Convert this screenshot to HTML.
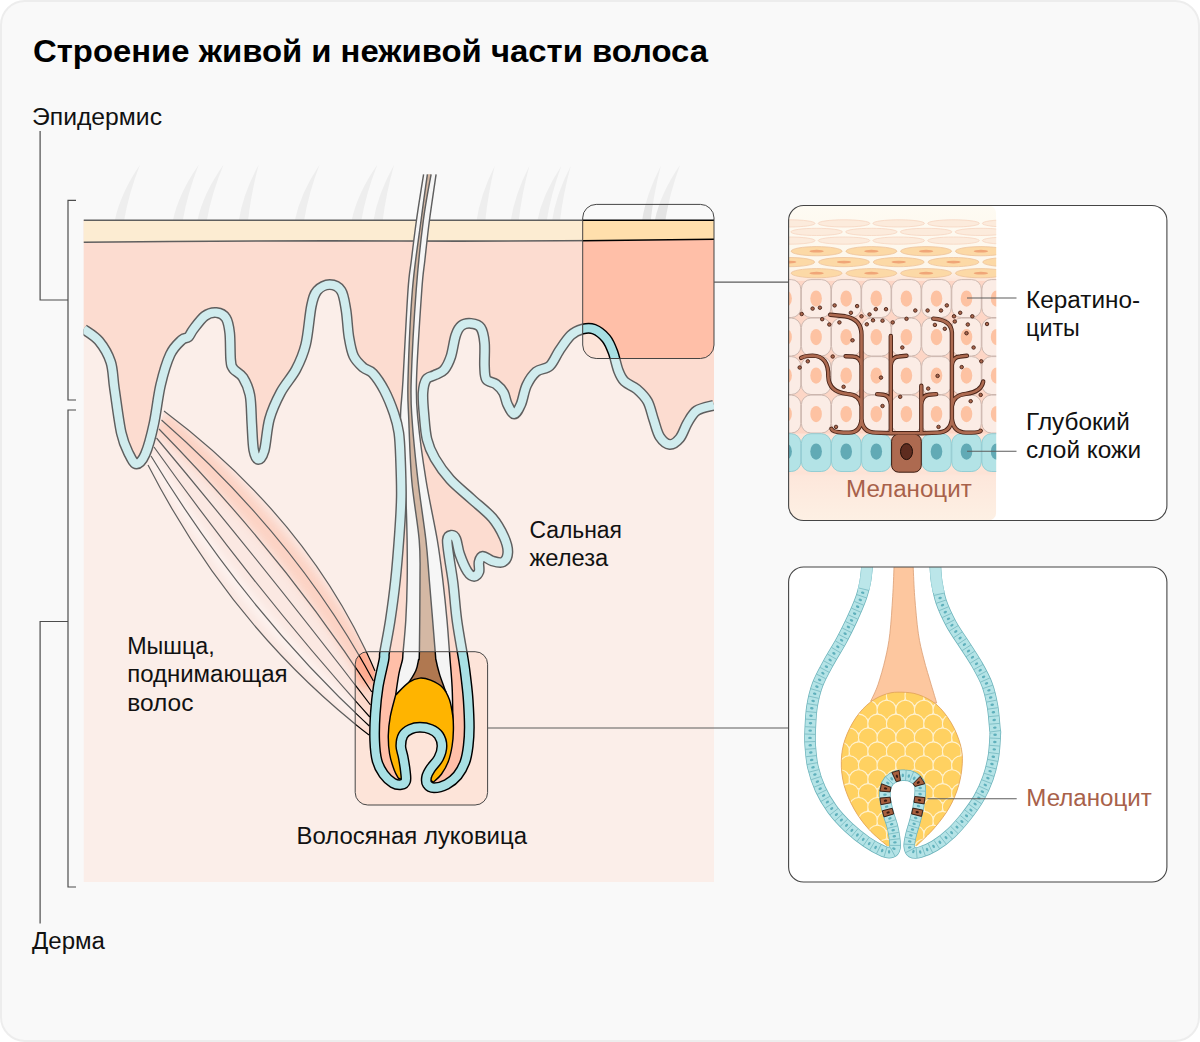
<!DOCTYPE html>
<html lang="ru"><head><meta charset="utf-8"><title>Строение живой и неживой части волоса</title>
<style>
html,body{margin:0;padding:0;background:#fff}
body{width:1200px;height:1042px;overflow:hidden;font-family:"Liberation Sans",sans-serif}
.card{position:absolute;left:0;top:0;width:1196px;height:1038px;background:#f9f9f9;border:2px solid #ededed;border-radius:25px}
svg{position:absolute;left:0;top:0}
text{font-family:"Liberation Sans",sans-serif}
.t{font-size:23px;fill:#111}
.tb{font-size:23px;fill:#a8614a}
.ld{stroke:#4d4d4d;stroke-width:1.2;fill:none}
.ld2{stroke:#5c5c5c;stroke-width:1.1;fill:none}
</style></head><body>
<div class="card"></div>
<svg width="1200" height="1042" viewBox="0 0 1200 1042">

<defs>
<linearGradient id="mg" gradientUnits="userSpaceOnUse" x1="300" y1="520" x2="225" y2="600">
<stop offset="0" stop-color="#ffbfa8" stop-opacity="0.9"/><stop offset="0.45" stop-color="#ffbfa8" stop-opacity="0.35"/><stop offset="1" stop-color="#ffbfa8" stop-opacity="0.05"/></linearGradient>
<clipPath id="cmus"><path d="M164,411 Q310.5,521 375,671 L369,735 Q232,629 148,465 Z"/></clipPath><filter id="blur5" x="-20%" y="-20%" width="140%" height="140%"><feGaussianBlur stdDeviation="4.5"/></filter>
<clipPath id="cskin"><rect x="83.5" y="150" width="630.5" height="732"/></clipPath>
<clipPath id="cbox"><rect x="582.7" y="204.4" width="131.3" height="154.1" rx="13.5"/><rect x="355.2" y="651.7" width="132.4" height="153.3" rx="12.5"/></clipPath>

<g id="skin">
<path d="M114.7,221 Q120,194 140,164.7 Q128.5,194 124,221 ZM172.8,221 Q178.2,194 198.7,164.7 Q187.2,194 182.7,221 ZM197.3,221 Q202.8,194 223.5,164.7 Q211.4,194 206.7,221 ZM238.7,221 Q242.9,194 258.7,164.7 Q251,194 248,221 ZM294.7,221 Q299.9,194 319.5,164.7 Q308.3,194 304,221 ZM351.5,221 Q356.9,194 377.3,164.7 Q365.8,194 361.3,221 ZM373.3,221 Q377.7,194 394.1,164.7 Q385.9,194 382.7,221 ZM476.5,221 Q480.3,194.6 494.7,166 Q487.9,194.6 485.3,221 ZM510.7,221 Q514.6,194.6 529.3,166 Q521.7,194.6 518.7,221 ZM537.3,221 Q542.3,194.6 561.3,166 Q550.8,194.6 546.7,221 ZM552,221 Q555.9,194.6 570.7,166 Q563,194.6 560,221 ZM642,221 Q645.9,194.6 660.8,166 Q653.5,194.6 650.7,221 ZM654.7,221 Q660,194.1 680,165 Q669.4,194.1 665.3,221 Z" fill="#e4e4e4"/>
<rect x="83.5" y="220" width="630.5" height="662" fill="#fde4d9"/>
<g clip-path="url(#cmus)"><path d="M164,411 Q310.5,521 375,671 L369,735 Q232,629 148,465 Z" fill="#ffbfa8" opacity="0.28"/><path d="M161,421.3 Q295.6,541.5 373.9,683.2" fill="none" stroke="#ffa98c" stroke-width="22" filter="url(#blur5)" opacity="0.95"/><path d="M150.4,456.9 Q243.8,612.8 369.9,725.4" fill="none" stroke="#fff" stroke-width="12" filter="url(#blur5)" opacity="0.45"/></g>
<path d="M164,411 Q310.5,521 375,671M161.5,420 Q297.4,539 373.4,681M159,429 Q284.3,557 371.8,692M156.5,438 Q271.2,575 370.5,705M154,447 Q258.2,593 369.8,717M151,456 Q245.1,611 369.3,726M148,465 Q232,629 369,735" fill="none" stroke="#000" stroke-width="1.2"/>
<path d="M83.5,220 L83.5,329C86.1,331 94.5,335.5 99,341C103.5,346.5 108.1,354 110.7,362C113.3,370 112.7,377.2 114.5,389C116.3,400.8 118.9,422.2 121.3,433C123.7,443.8 126.5,448.8 129,454C131.6,459.2 133.9,464 136.6,464C139.3,464 142.4,460.7 145.3,454C148.2,447.3 151.4,435.1 153.9,423.6C156.4,412.1 157.9,396.5 160.6,385C163.3,373.5 166.7,362 170.2,354.5C173.7,347 178.7,342.9 181.7,340C184.7,337.1 186.5,338.8 188.4,337C190.3,335.2 190.5,333 193.2,329.5C195.9,326 201,318.8 204.8,316C208.7,313.2 212.8,312.3 216.3,312.6C219.8,312.9 223.7,314.6 225.9,318C228.1,321.4 228.9,326 229.7,333C230.5,340 230.1,354 230.7,360C231.3,366 231.4,366.1 233.5,369C235.6,371.9 240.3,373.2 243,377.5C245.7,381.8 248.4,387.3 249.9,395C251.4,402.7 251.2,414.3 251.8,423.5C252.4,432.7 252.6,444 253.7,450C254.8,456 256.5,459.4 258.3,459.5C260.1,459.6 262.4,457.1 264.3,450.4C266.2,443.6 266.8,428.7 269.5,419C272.2,409.3 276.3,400.7 280.7,392.4C285.1,384.1 291.8,377.4 296,369.4C300.2,361.4 303.1,355.1 305.7,344.5C308.3,333.9 309.5,315 311.4,306C313.3,297 314.1,294.3 317.2,290.7C320.2,287.1 325.7,284.6 329.7,284.6C333.7,284.6 338.5,286.5 341.2,290.7C343.9,294.9 344.7,302.3 346,310C347.3,317.7 347.6,329.1 348.9,336.8C350.2,344.5 351.2,350.9 353.6,356C356,361.1 360,364.6 363.2,367.5C366.4,370.4 369.3,369.4 372.8,373.2C376.3,377 380.9,383.8 384.4,390.5C387.9,397.2 391.6,406.5 394,413.5C396.4,420.5 397.7,425.1 398.8,432.7C399.9,440.3 400.1,448.3 400.5,459C400.9,469.7 401.5,484.1 401.3,496.8C401.1,509.5 400.3,521.3 399.3,535.2C398.3,549.1 397,565.9 395.5,580C394,594.1 392.1,608 390.3,620C388.5,632 385.8,645 384.7,651.7C383.6,658.4 385,654.1 383.9,660C382.8,665.9 379.6,677.9 378.2,686.9C376.8,695.9 375.9,704.8 375.3,713.7C374.7,722.7 374.4,732.8 374.7,740.6C375,748.5 375.6,755.2 377.1,760.8C378.6,766.4 381,770.5 383.6,774.2C386.2,777.9 390.1,781.2 393,782.9C395.9,784.6 399.1,784.9 401.2,784.6C403.3,784.3 405,783.1 405.7,780.9C406.4,778.7 405.8,775.5 405.4,771.5C405,767.5 403.9,761 403.1,756.7C402.3,752.5 400.8,749.6 400.8,746C400.8,742.4 401.5,738 403.1,735.2C404.7,732.4 407.7,730.5 410.5,729.2C413.3,727.9 416.5,727.3 419.9,727.3C423.2,727.3 427.5,727.9 430.6,729.2C433.7,730.5 436.8,732.4 438.7,735.2C440.6,738 442,742.2 442,746C442,749.8 440.6,754.3 438.7,758.1C436.8,761.9 432.6,765.7 430.6,768.8C428.6,771.9 427.2,774.3 426.6,776.9C426.1,779.5 426.1,782.5 427.3,784.3C428.5,786.1 430.8,787.8 434,787.8C437.2,787.8 442.8,786.3 446.7,784.3C450.6,782.2 454.5,779.2 457.5,775.5C460.5,771.8 463.1,767 464.9,762.1C466.7,757.2 467.5,751.8 468.2,746C468.9,740.2 469.3,734.8 469.3,727.2C469.3,719.6 468.7,708.1 468.2,700.3C467.7,692.5 467,686.9 466.2,680.2C465.4,673.5 465.1,670 463.5,660C461.9,650 458.6,632.8 456.9,620C455.2,607.2 454.4,593.4 453.1,583.1C451.8,572.8 450.3,565.4 449.3,558.2C448.3,551 447,543.8 447.3,540C447.6,536.2 449.8,535.4 451.2,535.2C452.6,535 454.6,535.8 456,539C457.4,542.2 457.9,549 459.8,554.4C461.7,559.8 465.1,567.9 467.5,571.6C469.9,575.3 472.3,576.4 474.2,576.4C476.1,576.4 478.2,574 479,571.6C479.8,569.2 478.4,564.5 479,562C479.6,559.5 480.6,556.5 482.8,556.3C485,556.1 489,560 492.4,561C495.8,562 500.4,563.4 503,562C505.6,560.6 507.6,556.6 507.8,552.4C508,548.2 506.6,542.8 504,537C501.4,531.2 497.8,524.3 492.4,517.9C486.9,511.5 478.3,505.1 471.3,498.7C464.3,492.3 456.3,486.2 450.2,479.5C444.1,472.8 438.8,465.1 434.9,458.4C431,451.7 428.8,446.6 427,439.2C425.2,431.8 424.7,421.7 424,414C423.3,406.3 422.6,398.6 423,392.8C423.4,387 424.4,382.3 426.3,379.4C428.2,376.5 431.5,376.8 434.5,375.2C437.5,373.6 441.4,372.9 444.1,369.8C446.8,366.7 449,362.1 450.9,356.4C452.8,350.6 453.9,340.4 455.7,335.3C457.4,330.2 458.8,327.7 461.4,325.7C463.9,323.7 467.8,323.1 471,323.4C474.2,323.7 478.4,324.3 480.6,327.6C482.9,330.9 483.9,336.6 484.5,343C485.1,349.4 484.2,359.9 484.5,366C484.8,372.1 484.5,376.4 486.4,379.4C488.3,382.4 493.1,382 496,384.2C498.9,386.4 501.7,389.4 503.6,392.8C505.5,396.2 505.7,400.9 507.5,404.4C509.3,407.9 512,414 514.2,414C516.4,414 518.8,409.2 520.9,404.4C523,399.6 524.1,390.6 526.7,385.2C529.3,379.8 532.5,374.9 536.3,371.7C540.1,368.5 545.9,369.5 549.7,366C553.5,362.5 555.8,355.7 559.3,350.6C562.8,345.5 567,338.9 570.8,335.3C574.6,331.7 578.4,330.1 582.3,329.1C586.1,328.1 589.9,327.6 593.9,329.1C597.9,330.7 602.9,334.5 606.1,338.4C609.3,342.2 611,346.8 613,352.2C615,357.6 616.5,365.8 618.4,370.7C620.3,375.6 621.4,378.3 624.5,381.4C627.6,384.5 632.9,385.8 636.8,389.1C640.6,392.4 644.8,396.3 647.6,401.4C650.4,406.5 651.7,413.9 653.7,419.8C655.7,425.7 657.1,432.6 659.8,436.7C662.5,440.8 666.5,444.1 669.8,444.4C673.1,444.6 676.8,441.8 679.8,438.2C682.8,434.6 684.7,427.5 687.5,422.9C690.3,418.3 692.3,413.6 696.7,410.6C701.1,407.7 711.1,406.1 714,405.2L714,220 Z" fill="#ffbfa8"/>
<path d="M83.5,220 L714,220 L714,239.3 Q560,241.5 400,241 T83.5,242.2 Z" fill="#ffdfac"/>
<path d="M83.5,220.3 L714,220.3 M714,239.3 Q560,241.5 400,241 T83.5,242.2" fill="none" stroke="#000" stroke-width="1.6"/>
<path d="M423.6,174.3C422.4,181.9 418.5,205.7 416.5,220C414.5,234.3 412.8,248.3 411.4,260C410,271.7 409.4,270 408,290C406.6,310 404.2,358.3 403,380C401.8,401.7 400.3,406.7 400.5,420C400.7,433.3 403.1,446.7 404,460C404.9,473.3 405.5,486.7 406,500C406.5,513.3 406.9,526.7 407.1,540C407.3,553.3 407.4,566.7 407.2,580C407,593.3 406.5,608 405.8,620C405.1,632 403.7,645 403.1,651.7C402.5,658.4 403.1,656.4 402.4,660C401.7,663.6 400.1,667.6 399,673.4C397.9,679.2 396.2,691.3 395.7,694.9L453.2,729.9C453.1,727.2 453,720.9 452.8,713.7C452.6,706.5 452.6,695.9 452.1,686.9C451.7,677.9 451,671.1 450.1,660C449.2,648.9 448.2,633.3 447,620C445.8,606.7 444.4,593.3 442.8,580C441.2,566.7 440.1,556.7 437.3,540C434.5,523.3 429.2,500 426,480C422.8,460 419.6,436.7 418,420C416.4,403.3 415.9,401.7 416.5,380C417.1,358.3 420.4,310 421.8,290C423.2,270 423.6,271.7 424.9,260C426.2,248.3 427.6,234.3 429.5,220C431.4,205.7 435,181.9 436.1,174.3Z" fill="#f4f4f4"/>
<path d="M427.4,174.3C426.3,181.9 423.6,200.7 421.1,220C418.6,239.3 414.6,263.3 412.4,290C410.2,316.7 408.6,358.3 408,380C407.4,401.7 408.2,403.3 408.8,420C409.4,436.7 410,460 411.7,480C413.4,500 417.8,523.3 419.2,540C420.6,556.7 420,561.4 420,580C420,598.6 419.6,638.4 419.4,651.7C419.1,665 419.1,656.8 418.5,660C417.9,663.2 417.4,667 415.8,670.7C414.2,674.4 410.2,680.3 409.1,682.2L446.1,692.2C445.8,691.3 445.1,690 444,686.9C442.9,683.8 440.6,677.9 439.3,673.4C438,668.9 436.7,663.6 436,660C435.3,656.4 436.3,665 435.2,651.7C434.1,638.4 430.9,598.6 429.3,580C427.8,561.4 427.8,556.7 425.9,540C424,523.3 420.2,500 417.9,480C415.6,460 413.2,436.7 412.1,420C411,403.3 410.5,401.7 411.2,380C411.9,358.3 414.2,316.7 416.2,290C418.2,263.3 420.9,239.3 423.4,220C425.9,200.7 429.8,181.9 431.1,174.3Z" fill="#b07850"/>
<path d="M423.6,174.3C422.4,181.9 418.5,205.7 416.5,220C414.5,234.3 412.8,248.3 411.4,260C410,271.7 409.4,270 408,290C406.6,310 404.2,358.3 403,380C401.8,401.7 400.3,406.7 400.5,420C400.7,433.3 403.1,446.7 404,460C404.9,473.3 405.5,486.7 406,500C406.5,513.3 406.9,526.7 407.1,540C407.3,553.3 407.4,566.7 407.2,580C407,593.3 406.5,608 405.8,620C405.1,632 403.7,645 403.1,651.7C402.5,658.4 403.1,656.4 402.4,660C401.7,663.6 400.1,667.6 399,673.4C397.9,679.2 396.2,691.3 395.7,694.9 M436.1,174.3C435,181.9 431.4,205.7 429.5,220C427.6,234.3 426.2,248.3 424.9,260C423.6,271.7 423.2,270 421.8,290C420.4,310 417.1,358.3 416.5,380C415.9,401.7 416.4,403.3 418,420C419.6,436.7 422.8,460 426,480C429.2,500 434.5,523.3 437.3,540C440.1,556.7 441.2,566.7 442.8,580C444.4,593.3 445.8,606.7 447,620C448.2,633.3 449.2,648.9 450.1,660C451,671.1 451.7,677.9 452.1,686.9C452.6,695.9 452.6,706.5 452.8,713.7C453,720.9 453.1,727.2 453.2,729.9 M427.4,174.3C426.3,181.9 423.6,200.7 421.1,220C418.6,239.3 414.6,263.3 412.4,290C410.2,316.7 408.6,358.3 408,380C407.4,401.7 408.2,403.3 408.8,420C409.4,436.7 410,460 411.7,480C413.4,500 417.8,523.3 419.2,540C420.6,556.7 420,561.4 420,580C420,598.6 419.6,638.4 419.4,651.7C419.1,665 419.1,656.8 418.5,660C417.9,663.2 417.4,667 415.8,670.7C414.2,674.4 410.2,680.3 409.1,682.2 M431.1,174.3C429.8,181.9 425.9,200.7 423.4,220C420.9,239.3 418.2,263.3 416.2,290C414.2,316.7 411.9,358.3 411.2,380C410.5,401.7 411,403.3 412.1,420C413.2,436.7 415.6,460 417.9,480C420.2,500 424,523.3 425.9,540C427.8,556.7 427.8,561.4 429.3,580C430.9,598.6 434.1,638.4 435.2,651.7C436.3,665 435.3,656.4 436,660C436.7,663.6 438,668.9 439.3,673.4C440.6,677.9 442.9,683.8 444,686.9C445.1,690 445.8,691.3 446.1,692.2" fill="none" stroke="#000" stroke-width="1.45"/>
<path d="M398.4,778.2C397.7,776.9 395.8,774.2 394.3,770.2C392.8,766.2 390.6,759.8 389.6,754C388.6,748.2 388.2,741.5 388.3,735.2C388.4,728.9 389.1,723.1 390.3,716.4C391.5,709.7 394.8,698.5 395.7,694.9C397.9,692.8 405.1,685 409.1,682.2C413.1,679.4 416.3,678.4 419.9,678.1C423.5,677.8 426.8,678.7 430.6,680.2C434.4,681.8 439.5,684.2 442.6,687.4C445.7,690.6 447.7,694.8 449.4,699.6C451.1,704.4 452.1,711.2 452.8,716.2C453.5,721.2 453.5,724.9 453.4,729.9C453.3,734.9 453,740.6 452.1,746C451.2,751.4 449.9,757.4 448.1,762.1C446.3,766.8 443.9,770.8 441.4,774.2C438.9,777.6 434.6,780.9 433.3,782.3L426.6,776.9C427.3,775.5 428.6,771.9 430.6,768.8C432.6,765.7 436.8,761.9 438.7,758.1C440.6,754.3 442,749.8 442,746C442,742.2 440.6,738 438.7,735.2C436.8,732.4 433.7,730.5 430.6,729.2C427.5,727.9 423.2,727.3 419.9,727.3C416.5,727.3 413.3,727.9 410.5,729.2C407.7,730.5 404.7,732.4 403.1,735.2C401.5,738 400.8,742.4 400.8,746C400.8,749.6 402.3,752.5 403.1,756.7C403.9,761 405,767.5 405.4,771.5C405.8,775.5 405.6,779.3 405.7,780.9Z" fill="#ffb400" stroke="#000" stroke-width="1.45" stroke-linejoin="round"/>
<path d="M83.5,329C86.1,331 94.5,335.5 99,341C103.5,346.5 108.1,354 110.7,362C113.3,370 112.7,377.2 114.5,389C116.3,400.8 118.9,422.2 121.3,433C123.7,443.8 126.5,448.8 129,454C131.6,459.2 133.9,464 136.6,464C139.3,464 142.4,460.7 145.3,454C148.2,447.3 151.4,435.1 153.9,423.6C156.4,412.1 157.9,396.5 160.6,385C163.3,373.5 166.7,362 170.2,354.5C173.7,347 178.7,342.9 181.7,340C184.7,337.1 186.5,338.8 188.4,337C190.3,335.2 190.5,333 193.2,329.5C195.9,326 201,318.8 204.8,316C208.7,313.2 212.8,312.3 216.3,312.6C219.8,312.9 223.7,314.6 225.9,318C228.1,321.4 228.9,326 229.7,333C230.5,340 230.1,354 230.7,360C231.3,366 231.4,366.1 233.5,369C235.6,371.9 240.3,373.2 243,377.5C245.7,381.8 248.4,387.3 249.9,395C251.4,402.7 251.2,414.3 251.8,423.5C252.4,432.7 252.6,444 253.7,450C254.8,456 256.5,459.4 258.3,459.5C260.1,459.6 262.4,457.1 264.3,450.4C266.2,443.6 266.8,428.7 269.5,419C272.2,409.3 276.3,400.7 280.7,392.4C285.1,384.1 291.8,377.4 296,369.4C300.2,361.4 303.1,355.1 305.7,344.5C308.3,333.9 309.5,315 311.4,306C313.3,297 314.1,294.3 317.2,290.7C320.2,287.1 325.7,284.6 329.7,284.6C333.7,284.6 338.5,286.5 341.2,290.7C343.9,294.9 344.7,302.3 346,310C347.3,317.7 347.6,329.1 348.9,336.8C350.2,344.5 351.2,350.9 353.6,356C356,361.1 360,364.6 363.2,367.5C366.4,370.4 369.3,369.4 372.8,373.2C376.3,377 380.9,383.8 384.4,390.5C387.9,397.2 391.6,406.5 394,413.5C396.4,420.5 397.7,425.1 398.8,432.7C399.9,440.3 400.1,448.3 400.5,459C400.9,469.7 401.5,484.1 401.3,496.8C401.1,509.5 400.3,521.3 399.3,535.2C398.3,549.1 397,565.9 395.5,580C394,594.1 392.1,608 390.3,620C388.5,632 385.8,645 384.7,651.7C383.6,658.4 385,654.1 383.9,660C382.8,665.9 379.6,677.9 378.2,686.9C376.8,695.9 375.9,704.8 375.3,713.7C374.7,722.7 374.4,732.8 374.7,740.6C375,748.5 375.6,755.2 377.1,760.8C378.6,766.4 381,770.5 383.6,774.2C386.2,777.9 390.1,781.2 393,782.9C395.9,784.6 399.1,784.9 401.2,784.6C403.3,784.3 405,783.1 405.7,780.9C406.4,778.7 405.8,775.5 405.4,771.5C405,767.5 403.9,761 403.1,756.7C402.3,752.5 400.8,749.6 400.8,746C400.8,742.4 401.5,738 403.1,735.2C404.7,732.4 407.7,730.5 410.5,729.2C413.3,727.9 416.5,727.3 419.9,727.3C423.2,727.3 427.5,727.9 430.6,729.2C433.7,730.5 436.8,732.4 438.7,735.2C440.6,738 442,742.2 442,746C442,749.8 440.6,754.3 438.7,758.1C436.8,761.9 432.6,765.7 430.6,768.8C428.6,771.9 427.2,774.3 426.6,776.9C426.1,779.5 426.1,782.5 427.3,784.3C428.5,786.1 430.8,787.8 434,787.8C437.2,787.8 442.8,786.3 446.7,784.3C450.6,782.2 454.5,779.2 457.5,775.5C460.5,771.8 463.1,767 464.9,762.1C466.7,757.2 467.5,751.8 468.2,746C468.9,740.2 469.3,734.8 469.3,727.2C469.3,719.6 468.7,708.1 468.2,700.3C467.7,692.5 467,686.9 466.2,680.2C465.4,673.5 465.1,670 463.5,660C461.9,650 458.6,632.8 456.9,620C455.2,607.2 454.4,593.4 453.1,583.1C451.8,572.8 450.3,565.4 449.3,558.2C448.3,551 447,543.8 447.3,540C447.6,536.2 449.8,535.4 451.2,535.2C452.6,535 454.6,535.8 456,539C457.4,542.2 457.9,549 459.8,554.4C461.7,559.8 465.1,567.9 467.5,571.6C469.9,575.3 472.3,576.4 474.2,576.4C476.1,576.4 478.2,574 479,571.6C479.8,569.2 478.4,564.5 479,562C479.6,559.5 480.6,556.5 482.8,556.3C485,556.1 489,560 492.4,561C495.8,562 500.4,563.4 503,562C505.6,560.6 507.6,556.6 507.8,552.4C508,548.2 506.6,542.8 504,537C501.4,531.2 497.8,524.3 492.4,517.9C486.9,511.5 478.3,505.1 471.3,498.7C464.3,492.3 456.3,486.2 450.2,479.5C444.1,472.8 438.8,465.1 434.9,458.4C431,451.7 428.8,446.6 427,439.2C425.2,431.8 424.7,421.7 424,414C423.3,406.3 422.6,398.6 423,392.8C423.4,387 424.4,382.3 426.3,379.4C428.2,376.5 431.5,376.8 434.5,375.2C437.5,373.6 441.4,372.9 444.1,369.8C446.8,366.7 449,362.1 450.9,356.4C452.8,350.6 453.9,340.4 455.7,335.3C457.4,330.2 458.8,327.7 461.4,325.7C463.9,323.7 467.8,323.1 471,323.4C474.2,323.7 478.4,324.3 480.6,327.6C482.9,330.9 483.9,336.6 484.5,343C485.1,349.4 484.2,359.9 484.5,366C484.8,372.1 484.5,376.4 486.4,379.4C488.3,382.4 493.1,382 496,384.2C498.9,386.4 501.7,389.4 503.6,392.8C505.5,396.2 505.7,400.9 507.5,404.4C509.3,407.9 512,414 514.2,414C516.4,414 518.8,409.2 520.9,404.4C523,399.6 524.1,390.6 526.7,385.2C529.3,379.8 532.5,374.9 536.3,371.7C540.1,368.5 545.9,369.5 549.7,366C553.5,362.5 555.8,355.7 559.3,350.6C562.8,345.5 567,338.9 570.8,335.3C574.6,331.7 578.4,330.1 582.3,329.1C586.1,328.1 589.9,327.6 593.9,329.1C597.9,330.7 602.9,334.5 606.1,338.4C609.3,342.2 611,346.8 613,352.2C615,357.6 616.5,365.8 618.4,370.7C620.3,375.6 621.4,378.3 624.5,381.4C627.6,384.5 632.9,385.8 636.8,389.1C640.6,392.4 644.8,396.3 647.6,401.4C650.4,406.5 651.7,413.9 653.7,419.8C655.7,425.7 657.1,432.6 659.8,436.7C662.5,440.8 666.5,444.1 669.8,444.4C673.1,444.6 676.8,441.8 679.8,438.2C682.8,434.6 684.7,427.5 687.5,422.9C690.3,418.3 692.3,413.6 696.7,410.6C701.1,407.7 711.1,406.1 714,405.2" fill="none" stroke="#000" stroke-width="11" stroke-linejoin="round"/>
<path d="M83.5,329C86.1,331 94.5,335.5 99,341C103.5,346.5 108.1,354 110.7,362C113.3,370 112.7,377.2 114.5,389C116.3,400.8 118.9,422.2 121.3,433C123.7,443.8 126.5,448.8 129,454C131.6,459.2 133.9,464 136.6,464C139.3,464 142.4,460.7 145.3,454C148.2,447.3 151.4,435.1 153.9,423.6C156.4,412.1 157.9,396.5 160.6,385C163.3,373.5 166.7,362 170.2,354.5C173.7,347 178.7,342.9 181.7,340C184.7,337.1 186.5,338.8 188.4,337C190.3,335.2 190.5,333 193.2,329.5C195.9,326 201,318.8 204.8,316C208.7,313.2 212.8,312.3 216.3,312.6C219.8,312.9 223.7,314.6 225.9,318C228.1,321.4 228.9,326 229.7,333C230.5,340 230.1,354 230.7,360C231.3,366 231.4,366.1 233.5,369C235.6,371.9 240.3,373.2 243,377.5C245.7,381.8 248.4,387.3 249.9,395C251.4,402.7 251.2,414.3 251.8,423.5C252.4,432.7 252.6,444 253.7,450C254.8,456 256.5,459.4 258.3,459.5C260.1,459.6 262.4,457.1 264.3,450.4C266.2,443.6 266.8,428.7 269.5,419C272.2,409.3 276.3,400.7 280.7,392.4C285.1,384.1 291.8,377.4 296,369.4C300.2,361.4 303.1,355.1 305.7,344.5C308.3,333.9 309.5,315 311.4,306C313.3,297 314.1,294.3 317.2,290.7C320.2,287.1 325.7,284.6 329.7,284.6C333.7,284.6 338.5,286.5 341.2,290.7C343.9,294.9 344.7,302.3 346,310C347.3,317.7 347.6,329.1 348.9,336.8C350.2,344.5 351.2,350.9 353.6,356C356,361.1 360,364.6 363.2,367.5C366.4,370.4 369.3,369.4 372.8,373.2C376.3,377 380.9,383.8 384.4,390.5C387.9,397.2 391.6,406.5 394,413.5C396.4,420.5 397.7,425.1 398.8,432.7C399.9,440.3 400.1,448.3 400.5,459C400.9,469.7 401.5,484.1 401.3,496.8C401.1,509.5 400.3,521.3 399.3,535.2C398.3,549.1 397,565.9 395.5,580C394,594.1 392.1,608 390.3,620C388.5,632 385.8,645 384.7,651.7C383.6,658.4 385,654.1 383.9,660C382.8,665.9 379.6,677.9 378.2,686.9C376.8,695.9 375.9,704.8 375.3,713.7C374.7,722.7 374.4,732.8 374.7,740.6C375,748.5 375.6,755.2 377.1,760.8C378.6,766.4 381,770.5 383.6,774.2C386.2,777.9 390.1,781.2 393,782.9C395.9,784.6 399.1,784.9 401.2,784.6C403.3,784.3 405,783.1 405.7,780.9C406.4,778.7 405.8,775.5 405.4,771.5C405,767.5 403.9,761 403.1,756.7C402.3,752.5 400.8,749.6 400.8,746C400.8,742.4 401.5,738 403.1,735.2C404.7,732.4 407.7,730.5 410.5,729.2C413.3,727.9 416.5,727.3 419.9,727.3C423.2,727.3 427.5,727.9 430.6,729.2C433.7,730.5 436.8,732.4 438.7,735.2C440.6,738 442,742.2 442,746C442,749.8 440.6,754.3 438.7,758.1C436.8,761.9 432.6,765.7 430.6,768.8C428.6,771.9 427.2,774.3 426.6,776.9C426.1,779.5 426.1,782.5 427.3,784.3C428.5,786.1 430.8,787.8 434,787.8C437.2,787.8 442.8,786.3 446.7,784.3C450.6,782.2 454.5,779.2 457.5,775.5C460.5,771.8 463.1,767 464.9,762.1C466.7,757.2 467.5,751.8 468.2,746C468.9,740.2 469.3,734.8 469.3,727.2C469.3,719.6 468.7,708.1 468.2,700.3C467.7,692.5 467,686.9 466.2,680.2C465.4,673.5 465.1,670 463.5,660C461.9,650 458.6,632.8 456.9,620C455.2,607.2 454.4,593.4 453.1,583.1C451.8,572.8 450.3,565.4 449.3,558.2C448.3,551 447,543.8 447.3,540C447.6,536.2 449.8,535.4 451.2,535.2C452.6,535 454.6,535.8 456,539C457.4,542.2 457.9,549 459.8,554.4C461.7,559.8 465.1,567.9 467.5,571.6C469.9,575.3 472.3,576.4 474.2,576.4C476.1,576.4 478.2,574 479,571.6C479.8,569.2 478.4,564.5 479,562C479.6,559.5 480.6,556.5 482.8,556.3C485,556.1 489,560 492.4,561C495.8,562 500.4,563.4 503,562C505.6,560.6 507.6,556.6 507.8,552.4C508,548.2 506.6,542.8 504,537C501.4,531.2 497.8,524.3 492.4,517.9C486.9,511.5 478.3,505.1 471.3,498.7C464.3,492.3 456.3,486.2 450.2,479.5C444.1,472.8 438.8,465.1 434.9,458.4C431,451.7 428.8,446.6 427,439.2C425.2,431.8 424.7,421.7 424,414C423.3,406.3 422.6,398.6 423,392.8C423.4,387 424.4,382.3 426.3,379.4C428.2,376.5 431.5,376.8 434.5,375.2C437.5,373.6 441.4,372.9 444.1,369.8C446.8,366.7 449,362.1 450.9,356.4C452.8,350.6 453.9,340.4 455.7,335.3C457.4,330.2 458.8,327.7 461.4,325.7C463.9,323.7 467.8,323.1 471,323.4C474.2,323.7 478.4,324.3 480.6,327.6C482.9,330.9 483.9,336.6 484.5,343C485.1,349.4 484.2,359.9 484.5,366C484.8,372.1 484.5,376.4 486.4,379.4C488.3,382.4 493.1,382 496,384.2C498.9,386.4 501.7,389.4 503.6,392.8C505.5,396.2 505.7,400.9 507.5,404.4C509.3,407.9 512,414 514.2,414C516.4,414 518.8,409.2 520.9,404.4C523,399.6 524.1,390.6 526.7,385.2C529.3,379.8 532.5,374.9 536.3,371.7C540.1,368.5 545.9,369.5 549.7,366C553.5,362.5 555.8,355.7 559.3,350.6C562.8,345.5 567,338.9 570.8,335.3C574.6,331.7 578.4,330.1 582.3,329.1C586.1,328.1 589.9,327.6 593.9,329.1C597.9,330.7 602.9,334.5 606.1,338.4C609.3,342.2 611,346.8 613,352.2C615,357.6 616.5,365.8 618.4,370.7C620.3,375.6 621.4,378.3 624.5,381.4C627.6,384.5 632.9,385.8 636.8,389.1C640.6,392.4 644.8,396.3 647.6,401.4C650.4,406.5 651.7,413.9 653.7,419.8C655.7,425.7 657.1,432.6 659.8,436.7C662.5,440.8 666.5,444.1 669.8,444.4C673.1,444.6 676.8,441.8 679.8,438.2C682.8,434.6 684.7,427.5 687.5,422.9C690.3,418.3 692.3,413.6 696.7,410.6C701.1,407.7 711.1,406.1 714,405.2" fill="none" stroke="#a8e0e4" stroke-width="8.1" stroke-linejoin="round"/>
</g>

<g id="skinf">
<path d="M114.7,221 Q120,194 140,164.7 Q128.5,194 124,221 ZM172.8,221 Q178.2,194 198.7,164.7 Q187.2,194 182.7,221 ZM197.3,221 Q202.8,194 223.5,164.7 Q211.4,194 206.7,221 ZM238.7,221 Q242.9,194 258.7,164.7 Q251,194 248,221 ZM294.7,221 Q299.9,194 319.5,164.7 Q308.3,194 304,221 ZM351.5,221 Q356.9,194 377.3,164.7 Q365.8,194 361.3,221 ZM373.3,221 Q377.7,194 394.1,164.7 Q385.9,194 382.7,221 ZM476.5,221 Q480.3,194.6 494.7,166 Q487.9,194.6 485.3,221 ZM510.7,221 Q514.6,194.6 529.3,166 Q521.7,194.6 518.7,221 ZM537.3,221 Q542.3,194.6 561.3,166 Q550.8,194.6 546.7,221 ZM552,221 Q555.9,194.6 570.7,166 Q563,194.6 560,221 ZM642,221 Q645.9,194.6 660.8,166 Q653.5,194.6 650.7,221 ZM654.7,221 Q660,194.1 680,165 Q669.4,194.1 665.3,221 Z" fill="#eeeeee"/>
<rect x="83.5" y="220" width="630.5" height="662" fill="#fbeee9"/>
<g clip-path="url(#cmus)"><path d="M164,411 Q310.5,521 375,671 L369,735 Q232,629 148,465 Z" fill="#fcdcd0" opacity="0.28"/><path d="M161,421.3 Q295.6,541.5 373.9,683.2" fill="none" stroke="#fcd1c2" stroke-width="22" filter="url(#blur5)" opacity="0.95"/><path d="M150.4,456.9 Q243.8,612.8 369.9,725.4" fill="none" stroke="#fff" stroke-width="12" filter="url(#blur5)" opacity="0.45"/></g>
<path d="M164,411 Q310.5,521 375,671M161.5,420 Q297.4,539 373.4,681M159,429 Q284.3,557 371.8,692M156.5,438 Q271.2,575 370.5,705M154,447 Q258.2,593 369.8,717M151,456 Q245.1,611 369.3,726M148,465 Q232,629 369,735" fill="none" stroke="#5f5f5f" stroke-width="1.2"/>
<path d="M83.5,220 L83.5,329C86.1,331 94.5,335.5 99,341C103.5,346.5 108.1,354 110.7,362C113.3,370 112.7,377.2 114.5,389C116.3,400.8 118.9,422.2 121.3,433C123.7,443.8 126.5,448.8 129,454C131.6,459.2 133.9,464 136.6,464C139.3,464 142.4,460.7 145.3,454C148.2,447.3 151.4,435.1 153.9,423.6C156.4,412.1 157.9,396.5 160.6,385C163.3,373.5 166.7,362 170.2,354.5C173.7,347 178.7,342.9 181.7,340C184.7,337.1 186.5,338.8 188.4,337C190.3,335.2 190.5,333 193.2,329.5C195.9,326 201,318.8 204.8,316C208.7,313.2 212.8,312.3 216.3,312.6C219.8,312.9 223.7,314.6 225.9,318C228.1,321.4 228.9,326 229.7,333C230.5,340 230.1,354 230.7,360C231.3,366 231.4,366.1 233.5,369C235.6,371.9 240.3,373.2 243,377.5C245.7,381.8 248.4,387.3 249.9,395C251.4,402.7 251.2,414.3 251.8,423.5C252.4,432.7 252.6,444 253.7,450C254.8,456 256.5,459.4 258.3,459.5C260.1,459.6 262.4,457.1 264.3,450.4C266.2,443.6 266.8,428.7 269.5,419C272.2,409.3 276.3,400.7 280.7,392.4C285.1,384.1 291.8,377.4 296,369.4C300.2,361.4 303.1,355.1 305.7,344.5C308.3,333.9 309.5,315 311.4,306C313.3,297 314.1,294.3 317.2,290.7C320.2,287.1 325.7,284.6 329.7,284.6C333.7,284.6 338.5,286.5 341.2,290.7C343.9,294.9 344.7,302.3 346,310C347.3,317.7 347.6,329.1 348.9,336.8C350.2,344.5 351.2,350.9 353.6,356C356,361.1 360,364.6 363.2,367.5C366.4,370.4 369.3,369.4 372.8,373.2C376.3,377 380.9,383.8 384.4,390.5C387.9,397.2 391.6,406.5 394,413.5C396.4,420.5 397.7,425.1 398.8,432.7C399.9,440.3 400.1,448.3 400.5,459C400.9,469.7 401.5,484.1 401.3,496.8C401.1,509.5 400.3,521.3 399.3,535.2C398.3,549.1 397,565.9 395.5,580C394,594.1 392.1,608 390.3,620C388.5,632 385.8,645 384.7,651.7C383.6,658.4 385,654.1 383.9,660C382.8,665.9 379.6,677.9 378.2,686.9C376.8,695.9 375.9,704.8 375.3,713.7C374.7,722.7 374.4,732.8 374.7,740.6C375,748.5 375.6,755.2 377.1,760.8C378.6,766.4 381,770.5 383.6,774.2C386.2,777.9 390.1,781.2 393,782.9C395.9,784.6 399.1,784.9 401.2,784.6C403.3,784.3 405,783.1 405.7,780.9C406.4,778.7 405.8,775.5 405.4,771.5C405,767.5 403.9,761 403.1,756.7C402.3,752.5 400.8,749.6 400.8,746C400.8,742.4 401.5,738 403.1,735.2C404.7,732.4 407.7,730.5 410.5,729.2C413.3,727.9 416.5,727.3 419.9,727.3C423.2,727.3 427.5,727.9 430.6,729.2C433.7,730.5 436.8,732.4 438.7,735.2C440.6,738 442,742.2 442,746C442,749.8 440.6,754.3 438.7,758.1C436.8,761.9 432.6,765.7 430.6,768.8C428.6,771.9 427.2,774.3 426.6,776.9C426.1,779.5 426.1,782.5 427.3,784.3C428.5,786.1 430.8,787.8 434,787.8C437.2,787.8 442.8,786.3 446.7,784.3C450.6,782.2 454.5,779.2 457.5,775.5C460.5,771.8 463.1,767 464.9,762.1C466.7,757.2 467.5,751.8 468.2,746C468.9,740.2 469.3,734.8 469.3,727.2C469.3,719.6 468.7,708.1 468.2,700.3C467.7,692.5 467,686.9 466.2,680.2C465.4,673.5 465.1,670 463.5,660C461.9,650 458.6,632.8 456.9,620C455.2,607.2 454.4,593.4 453.1,583.1C451.8,572.8 450.3,565.4 449.3,558.2C448.3,551 447,543.8 447.3,540C447.6,536.2 449.8,535.4 451.2,535.2C452.6,535 454.6,535.8 456,539C457.4,542.2 457.9,549 459.8,554.4C461.7,559.8 465.1,567.9 467.5,571.6C469.9,575.3 472.3,576.4 474.2,576.4C476.1,576.4 478.2,574 479,571.6C479.8,569.2 478.4,564.5 479,562C479.6,559.5 480.6,556.5 482.8,556.3C485,556.1 489,560 492.4,561C495.8,562 500.4,563.4 503,562C505.6,560.6 507.6,556.6 507.8,552.4C508,548.2 506.6,542.8 504,537C501.4,531.2 497.8,524.3 492.4,517.9C486.9,511.5 478.3,505.1 471.3,498.7C464.3,492.3 456.3,486.2 450.2,479.5C444.1,472.8 438.8,465.1 434.9,458.4C431,451.7 428.8,446.6 427,439.2C425.2,431.8 424.7,421.7 424,414C423.3,406.3 422.6,398.6 423,392.8C423.4,387 424.4,382.3 426.3,379.4C428.2,376.5 431.5,376.8 434.5,375.2C437.5,373.6 441.4,372.9 444.1,369.8C446.8,366.7 449,362.1 450.9,356.4C452.8,350.6 453.9,340.4 455.7,335.3C457.4,330.2 458.8,327.7 461.4,325.7C463.9,323.7 467.8,323.1 471,323.4C474.2,323.7 478.4,324.3 480.6,327.6C482.9,330.9 483.9,336.6 484.5,343C485.1,349.4 484.2,359.9 484.5,366C484.8,372.1 484.5,376.4 486.4,379.4C488.3,382.4 493.1,382 496,384.2C498.9,386.4 501.7,389.4 503.6,392.8C505.5,396.2 505.7,400.9 507.5,404.4C509.3,407.9 512,414 514.2,414C516.4,414 518.8,409.2 520.9,404.4C523,399.6 524.1,390.6 526.7,385.2C529.3,379.8 532.5,374.9 536.3,371.7C540.1,368.5 545.9,369.5 549.7,366C553.5,362.5 555.8,355.7 559.3,350.6C562.8,345.5 567,338.9 570.8,335.3C574.6,331.7 578.4,330.1 582.3,329.1C586.1,328.1 589.9,327.6 593.9,329.1C597.9,330.7 602.9,334.5 606.1,338.4C609.3,342.2 611,346.8 613,352.2C615,357.6 616.5,365.8 618.4,370.7C620.3,375.6 621.4,378.3 624.5,381.4C627.6,384.5 632.9,385.8 636.8,389.1C640.6,392.4 644.8,396.3 647.6,401.4C650.4,406.5 651.7,413.9 653.7,419.8C655.7,425.7 657.1,432.6 659.8,436.7C662.5,440.8 666.5,444.1 669.8,444.4C673.1,444.6 676.8,441.8 679.8,438.2C682.8,434.6 684.7,427.5 687.5,422.9C690.3,418.3 692.3,413.6 696.7,410.6C701.1,407.7 711.1,406.1 714,405.2L714,220 Z" fill="#fcdcd0"/>
<path d="M83.5,220 L714,220 L714,239.3 Q560,241.5 400,241 T83.5,242.2 Z" fill="#fcecd2"/>
<path d="M83.5,220.3 L714,220.3 M714,239.3 Q560,241.5 400,241 T83.5,242.2" fill="none" stroke="#5f5f5f" stroke-width="1.6"/>
<path d="M423.6,174.3C422.4,181.9 418.5,205.7 416.5,220C414.5,234.3 412.8,248.3 411.4,260C410,271.7 409.4,270 408,290C406.6,310 404.2,358.3 403,380C401.8,401.7 400.3,406.7 400.5,420C400.7,433.3 403.1,446.7 404,460C404.9,473.3 405.5,486.7 406,500C406.5,513.3 406.9,526.7 407.1,540C407.3,553.3 407.4,566.7 407.2,580C407,593.3 406.5,608 405.8,620C405.1,632 403.7,645 403.1,651.7C402.5,658.4 403.1,656.4 402.4,660C401.7,663.6 400.1,667.6 399,673.4C397.9,679.2 396.2,691.3 395.7,694.9L453.2,729.9C453.1,727.2 453,720.9 452.8,713.7C452.6,706.5 452.6,695.9 452.1,686.9C451.7,677.9 451,671.1 450.1,660C449.2,648.9 448.2,633.3 447,620C445.8,606.7 444.4,593.3 442.8,580C441.2,566.7 440.1,556.7 437.3,540C434.5,523.3 429.2,500 426,480C422.8,460 419.6,436.7 418,420C416.4,403.3 415.9,401.7 416.5,380C417.1,358.3 420.4,310 421.8,290C423.2,270 423.6,271.7 424.9,260C426.2,248.3 427.6,234.3 429.5,220C431.4,205.7 435,181.9 436.1,174.3Z" fill="#f6f6f6"/>
<path d="M427.4,174.3C426.3,181.9 423.6,200.7 421.1,220C418.6,239.3 414.6,263.3 412.4,290C410.2,316.7 408.6,358.3 408,380C407.4,401.7 408.2,403.3 408.8,420C409.4,436.7 410,460 411.7,480C413.4,500 417.8,523.3 419.2,540C420.6,556.7 420,561.4 420,580C420,598.6 419.6,638.4 419.4,651.7C419.1,665 419.1,656.8 418.5,660C417.9,663.2 417.4,667 415.8,670.7C414.2,674.4 410.2,680.3 409.1,682.2L446.1,692.2C445.8,691.3 445.1,690 444,686.9C442.9,683.8 440.6,677.9 439.3,673.4C438,668.9 436.7,663.6 436,660C435.3,656.4 436.3,665 435.2,651.7C434.1,638.4 430.9,598.6 429.3,580C427.8,561.4 427.8,556.7 425.9,540C424,523.3 420.2,500 417.9,480C415.6,460 413.2,436.7 412.1,420C411,403.3 410.5,401.7 411.2,380C411.9,358.3 414.2,316.7 416.2,290C418.2,263.3 420.9,239.3 423.4,220C425.9,200.7 429.8,181.9 431.1,174.3Z" fill="#d4b8a4"/>
<path d="M423.6,174.3C422.4,181.9 418.5,205.7 416.5,220C414.5,234.3 412.8,248.3 411.4,260C410,271.7 409.4,270 408,290C406.6,310 404.2,358.3 403,380C401.8,401.7 400.3,406.7 400.5,420C400.7,433.3 403.1,446.7 404,460C404.9,473.3 405.5,486.7 406,500C406.5,513.3 406.9,526.7 407.1,540C407.3,553.3 407.4,566.7 407.2,580C407,593.3 406.5,608 405.8,620C405.1,632 403.7,645 403.1,651.7C402.5,658.4 403.1,656.4 402.4,660C401.7,663.6 400.1,667.6 399,673.4C397.9,679.2 396.2,691.3 395.7,694.9 M436.1,174.3C435,181.9 431.4,205.7 429.5,220C427.6,234.3 426.2,248.3 424.9,260C423.6,271.7 423.2,270 421.8,290C420.4,310 417.1,358.3 416.5,380C415.9,401.7 416.4,403.3 418,420C419.6,436.7 422.8,460 426,480C429.2,500 434.5,523.3 437.3,540C440.1,556.7 441.2,566.7 442.8,580C444.4,593.3 445.8,606.7 447,620C448.2,633.3 449.2,648.9 450.1,660C451,671.1 451.7,677.9 452.1,686.9C452.6,695.9 452.6,706.5 452.8,713.7C453,720.9 453.1,727.2 453.2,729.9 M427.4,174.3C426.3,181.9 423.6,200.7 421.1,220C418.6,239.3 414.6,263.3 412.4,290C410.2,316.7 408.6,358.3 408,380C407.4,401.7 408.2,403.3 408.8,420C409.4,436.7 410,460 411.7,480C413.4,500 417.8,523.3 419.2,540C420.6,556.7 420,561.4 420,580C420,598.6 419.6,638.4 419.4,651.7C419.1,665 419.1,656.8 418.5,660C417.9,663.2 417.4,667 415.8,670.7C414.2,674.4 410.2,680.3 409.1,682.2 M431.1,174.3C429.8,181.9 425.9,200.7 423.4,220C420.9,239.3 418.2,263.3 416.2,290C414.2,316.7 411.9,358.3 411.2,380C410.5,401.7 411,403.3 412.1,420C413.2,436.7 415.6,460 417.9,480C420.2,500 424,523.3 425.9,540C427.8,556.7 427.8,561.4 429.3,580C430.9,598.6 434.1,638.4 435.2,651.7C436.3,665 435.3,656.4 436,660C436.7,663.6 438,668.9 439.3,673.4C440.6,677.9 442.9,683.8 444,686.9C445.1,690 445.8,691.3 446.1,692.2" fill="none" stroke="#5f5f5f" stroke-width="1.45"/>
<path d="M398.4,778.2C397.7,776.9 395.8,774.2 394.3,770.2C392.8,766.2 390.6,759.8 389.6,754C388.6,748.2 388.2,741.5 388.3,735.2C388.4,728.9 389.1,723.1 390.3,716.4C391.5,709.7 394.8,698.5 395.7,694.9C397.9,692.8 405.1,685 409.1,682.2C413.1,679.4 416.3,678.4 419.9,678.1C423.5,677.8 426.8,678.7 430.6,680.2C434.4,681.8 439.5,684.2 442.6,687.4C445.7,690.6 447.7,694.8 449.4,699.6C451.1,704.4 452.1,711.2 452.8,716.2C453.5,721.2 453.5,724.9 453.4,729.9C453.3,734.9 453,740.6 452.1,746C451.2,751.4 449.9,757.4 448.1,762.1C446.3,766.8 443.9,770.8 441.4,774.2C438.9,777.6 434.6,780.9 433.3,782.3L426.6,776.9C427.3,775.5 428.6,771.9 430.6,768.8C432.6,765.7 436.8,761.9 438.7,758.1C440.6,754.3 442,749.8 442,746C442,742.2 440.6,738 438.7,735.2C436.8,732.4 433.7,730.5 430.6,729.2C427.5,727.9 423.2,727.3 419.9,727.3C416.5,727.3 413.3,727.9 410.5,729.2C407.7,730.5 404.7,732.4 403.1,735.2C401.5,738 400.8,742.4 400.8,746C400.8,749.6 402.3,752.5 403.1,756.7C403.9,761 405,767.5 405.4,771.5C405.8,775.5 405.6,779.3 405.7,780.9Z" fill="#fcd67c" stroke="#5f5f5f" stroke-width="1.45" stroke-linejoin="round"/>
<path d="M83.5,329C86.1,331 94.5,335.5 99,341C103.5,346.5 108.1,354 110.7,362C113.3,370 112.7,377.2 114.5,389C116.3,400.8 118.9,422.2 121.3,433C123.7,443.8 126.5,448.8 129,454C131.6,459.2 133.9,464 136.6,464C139.3,464 142.4,460.7 145.3,454C148.2,447.3 151.4,435.1 153.9,423.6C156.4,412.1 157.9,396.5 160.6,385C163.3,373.5 166.7,362 170.2,354.5C173.7,347 178.7,342.9 181.7,340C184.7,337.1 186.5,338.8 188.4,337C190.3,335.2 190.5,333 193.2,329.5C195.9,326 201,318.8 204.8,316C208.7,313.2 212.8,312.3 216.3,312.6C219.8,312.9 223.7,314.6 225.9,318C228.1,321.4 228.9,326 229.7,333C230.5,340 230.1,354 230.7,360C231.3,366 231.4,366.1 233.5,369C235.6,371.9 240.3,373.2 243,377.5C245.7,381.8 248.4,387.3 249.9,395C251.4,402.7 251.2,414.3 251.8,423.5C252.4,432.7 252.6,444 253.7,450C254.8,456 256.5,459.4 258.3,459.5C260.1,459.6 262.4,457.1 264.3,450.4C266.2,443.6 266.8,428.7 269.5,419C272.2,409.3 276.3,400.7 280.7,392.4C285.1,384.1 291.8,377.4 296,369.4C300.2,361.4 303.1,355.1 305.7,344.5C308.3,333.9 309.5,315 311.4,306C313.3,297 314.1,294.3 317.2,290.7C320.2,287.1 325.7,284.6 329.7,284.6C333.7,284.6 338.5,286.5 341.2,290.7C343.9,294.9 344.7,302.3 346,310C347.3,317.7 347.6,329.1 348.9,336.8C350.2,344.5 351.2,350.9 353.6,356C356,361.1 360,364.6 363.2,367.5C366.4,370.4 369.3,369.4 372.8,373.2C376.3,377 380.9,383.8 384.4,390.5C387.9,397.2 391.6,406.5 394,413.5C396.4,420.5 397.7,425.1 398.8,432.7C399.9,440.3 400.1,448.3 400.5,459C400.9,469.7 401.5,484.1 401.3,496.8C401.1,509.5 400.3,521.3 399.3,535.2C398.3,549.1 397,565.9 395.5,580C394,594.1 392.1,608 390.3,620C388.5,632 385.8,645 384.7,651.7C383.6,658.4 385,654.1 383.9,660C382.8,665.9 379.6,677.9 378.2,686.9C376.8,695.9 375.9,704.8 375.3,713.7C374.7,722.7 374.4,732.8 374.7,740.6C375,748.5 375.6,755.2 377.1,760.8C378.6,766.4 381,770.5 383.6,774.2C386.2,777.9 390.1,781.2 393,782.9C395.9,784.6 399.1,784.9 401.2,784.6C403.3,784.3 405,783.1 405.7,780.9C406.4,778.7 405.8,775.5 405.4,771.5C405,767.5 403.9,761 403.1,756.7C402.3,752.5 400.8,749.6 400.8,746C400.8,742.4 401.5,738 403.1,735.2C404.7,732.4 407.7,730.5 410.5,729.2C413.3,727.9 416.5,727.3 419.9,727.3C423.2,727.3 427.5,727.9 430.6,729.2C433.7,730.5 436.8,732.4 438.7,735.2C440.6,738 442,742.2 442,746C442,749.8 440.6,754.3 438.7,758.1C436.8,761.9 432.6,765.7 430.6,768.8C428.6,771.9 427.2,774.3 426.6,776.9C426.1,779.5 426.1,782.5 427.3,784.3C428.5,786.1 430.8,787.8 434,787.8C437.2,787.8 442.8,786.3 446.7,784.3C450.6,782.2 454.5,779.2 457.5,775.5C460.5,771.8 463.1,767 464.9,762.1C466.7,757.2 467.5,751.8 468.2,746C468.9,740.2 469.3,734.8 469.3,727.2C469.3,719.6 468.7,708.1 468.2,700.3C467.7,692.5 467,686.9 466.2,680.2C465.4,673.5 465.1,670 463.5,660C461.9,650 458.6,632.8 456.9,620C455.2,607.2 454.4,593.4 453.1,583.1C451.8,572.8 450.3,565.4 449.3,558.2C448.3,551 447,543.8 447.3,540C447.6,536.2 449.8,535.4 451.2,535.2C452.6,535 454.6,535.8 456,539C457.4,542.2 457.9,549 459.8,554.4C461.7,559.8 465.1,567.9 467.5,571.6C469.9,575.3 472.3,576.4 474.2,576.4C476.1,576.4 478.2,574 479,571.6C479.8,569.2 478.4,564.5 479,562C479.6,559.5 480.6,556.5 482.8,556.3C485,556.1 489,560 492.4,561C495.8,562 500.4,563.4 503,562C505.6,560.6 507.6,556.6 507.8,552.4C508,548.2 506.6,542.8 504,537C501.4,531.2 497.8,524.3 492.4,517.9C486.9,511.5 478.3,505.1 471.3,498.7C464.3,492.3 456.3,486.2 450.2,479.5C444.1,472.8 438.8,465.1 434.9,458.4C431,451.7 428.8,446.6 427,439.2C425.2,431.8 424.7,421.7 424,414C423.3,406.3 422.6,398.6 423,392.8C423.4,387 424.4,382.3 426.3,379.4C428.2,376.5 431.5,376.8 434.5,375.2C437.5,373.6 441.4,372.9 444.1,369.8C446.8,366.7 449,362.1 450.9,356.4C452.8,350.6 453.9,340.4 455.7,335.3C457.4,330.2 458.8,327.7 461.4,325.7C463.9,323.7 467.8,323.1 471,323.4C474.2,323.7 478.4,324.3 480.6,327.6C482.9,330.9 483.9,336.6 484.5,343C485.1,349.4 484.2,359.9 484.5,366C484.8,372.1 484.5,376.4 486.4,379.4C488.3,382.4 493.1,382 496,384.2C498.9,386.4 501.7,389.4 503.6,392.8C505.5,396.2 505.7,400.9 507.5,404.4C509.3,407.9 512,414 514.2,414C516.4,414 518.8,409.2 520.9,404.4C523,399.6 524.1,390.6 526.7,385.2C529.3,379.8 532.5,374.9 536.3,371.7C540.1,368.5 545.9,369.5 549.7,366C553.5,362.5 555.8,355.7 559.3,350.6C562.8,345.5 567,338.9 570.8,335.3C574.6,331.7 578.4,330.1 582.3,329.1C586.1,328.1 589.9,327.6 593.9,329.1C597.9,330.7 602.9,334.5 606.1,338.4C609.3,342.2 611,346.8 613,352.2C615,357.6 616.5,365.8 618.4,370.7C620.3,375.6 621.4,378.3 624.5,381.4C627.6,384.5 632.9,385.8 636.8,389.1C640.6,392.4 644.8,396.3 647.6,401.4C650.4,406.5 651.7,413.9 653.7,419.8C655.7,425.7 657.1,432.6 659.8,436.7C662.5,440.8 666.5,444.1 669.8,444.4C673.1,444.6 676.8,441.8 679.8,438.2C682.8,434.6 684.7,427.5 687.5,422.9C690.3,418.3 692.3,413.6 696.7,410.6C701.1,407.7 711.1,406.1 714,405.2" fill="none" stroke="#5f5f5f" stroke-width="11" stroke-linejoin="round"/>
<path d="M83.5,329C86.1,331 94.5,335.5 99,341C103.5,346.5 108.1,354 110.7,362C113.3,370 112.7,377.2 114.5,389C116.3,400.8 118.9,422.2 121.3,433C123.7,443.8 126.5,448.8 129,454C131.6,459.2 133.9,464 136.6,464C139.3,464 142.4,460.7 145.3,454C148.2,447.3 151.4,435.1 153.9,423.6C156.4,412.1 157.9,396.5 160.6,385C163.3,373.5 166.7,362 170.2,354.5C173.7,347 178.7,342.9 181.7,340C184.7,337.1 186.5,338.8 188.4,337C190.3,335.2 190.5,333 193.2,329.5C195.9,326 201,318.8 204.8,316C208.7,313.2 212.8,312.3 216.3,312.6C219.8,312.9 223.7,314.6 225.9,318C228.1,321.4 228.9,326 229.7,333C230.5,340 230.1,354 230.7,360C231.3,366 231.4,366.1 233.5,369C235.6,371.9 240.3,373.2 243,377.5C245.7,381.8 248.4,387.3 249.9,395C251.4,402.7 251.2,414.3 251.8,423.5C252.4,432.7 252.6,444 253.7,450C254.8,456 256.5,459.4 258.3,459.5C260.1,459.6 262.4,457.1 264.3,450.4C266.2,443.6 266.8,428.7 269.5,419C272.2,409.3 276.3,400.7 280.7,392.4C285.1,384.1 291.8,377.4 296,369.4C300.2,361.4 303.1,355.1 305.7,344.5C308.3,333.9 309.5,315 311.4,306C313.3,297 314.1,294.3 317.2,290.7C320.2,287.1 325.7,284.6 329.7,284.6C333.7,284.6 338.5,286.5 341.2,290.7C343.9,294.9 344.7,302.3 346,310C347.3,317.7 347.6,329.1 348.9,336.8C350.2,344.5 351.2,350.9 353.6,356C356,361.1 360,364.6 363.2,367.5C366.4,370.4 369.3,369.4 372.8,373.2C376.3,377 380.9,383.8 384.4,390.5C387.9,397.2 391.6,406.5 394,413.5C396.4,420.5 397.7,425.1 398.8,432.7C399.9,440.3 400.1,448.3 400.5,459C400.9,469.7 401.5,484.1 401.3,496.8C401.1,509.5 400.3,521.3 399.3,535.2C398.3,549.1 397,565.9 395.5,580C394,594.1 392.1,608 390.3,620C388.5,632 385.8,645 384.7,651.7C383.6,658.4 385,654.1 383.9,660C382.8,665.9 379.6,677.9 378.2,686.9C376.8,695.9 375.9,704.8 375.3,713.7C374.7,722.7 374.4,732.8 374.7,740.6C375,748.5 375.6,755.2 377.1,760.8C378.6,766.4 381,770.5 383.6,774.2C386.2,777.9 390.1,781.2 393,782.9C395.9,784.6 399.1,784.9 401.2,784.6C403.3,784.3 405,783.1 405.7,780.9C406.4,778.7 405.8,775.5 405.4,771.5C405,767.5 403.9,761 403.1,756.7C402.3,752.5 400.8,749.6 400.8,746C400.8,742.4 401.5,738 403.1,735.2C404.7,732.4 407.7,730.5 410.5,729.2C413.3,727.9 416.5,727.3 419.9,727.3C423.2,727.3 427.5,727.9 430.6,729.2C433.7,730.5 436.8,732.4 438.7,735.2C440.6,738 442,742.2 442,746C442,749.8 440.6,754.3 438.7,758.1C436.8,761.9 432.6,765.7 430.6,768.8C428.6,771.9 427.2,774.3 426.6,776.9C426.1,779.5 426.1,782.5 427.3,784.3C428.5,786.1 430.8,787.8 434,787.8C437.2,787.8 442.8,786.3 446.7,784.3C450.6,782.2 454.5,779.2 457.5,775.5C460.5,771.8 463.1,767 464.9,762.1C466.7,757.2 467.5,751.8 468.2,746C468.9,740.2 469.3,734.8 469.3,727.2C469.3,719.6 468.7,708.1 468.2,700.3C467.7,692.5 467,686.9 466.2,680.2C465.4,673.5 465.1,670 463.5,660C461.9,650 458.6,632.8 456.9,620C455.2,607.2 454.4,593.4 453.1,583.1C451.8,572.8 450.3,565.4 449.3,558.2C448.3,551 447,543.8 447.3,540C447.6,536.2 449.8,535.4 451.2,535.2C452.6,535 454.6,535.8 456,539C457.4,542.2 457.9,549 459.8,554.4C461.7,559.8 465.1,567.9 467.5,571.6C469.9,575.3 472.3,576.4 474.2,576.4C476.1,576.4 478.2,574 479,571.6C479.8,569.2 478.4,564.5 479,562C479.6,559.5 480.6,556.5 482.8,556.3C485,556.1 489,560 492.4,561C495.8,562 500.4,563.4 503,562C505.6,560.6 507.6,556.6 507.8,552.4C508,548.2 506.6,542.8 504,537C501.4,531.2 497.8,524.3 492.4,517.9C486.9,511.5 478.3,505.1 471.3,498.7C464.3,492.3 456.3,486.2 450.2,479.5C444.1,472.8 438.8,465.1 434.9,458.4C431,451.7 428.8,446.6 427,439.2C425.2,431.8 424.7,421.7 424,414C423.3,406.3 422.6,398.6 423,392.8C423.4,387 424.4,382.3 426.3,379.4C428.2,376.5 431.5,376.8 434.5,375.2C437.5,373.6 441.4,372.9 444.1,369.8C446.8,366.7 449,362.1 450.9,356.4C452.8,350.6 453.9,340.4 455.7,335.3C457.4,330.2 458.8,327.7 461.4,325.7C463.9,323.7 467.8,323.1 471,323.4C474.2,323.7 478.4,324.3 480.6,327.6C482.9,330.9 483.9,336.6 484.5,343C485.1,349.4 484.2,359.9 484.5,366C484.8,372.1 484.5,376.4 486.4,379.4C488.3,382.4 493.1,382 496,384.2C498.9,386.4 501.7,389.4 503.6,392.8C505.5,396.2 505.7,400.9 507.5,404.4C509.3,407.9 512,414 514.2,414C516.4,414 518.8,409.2 520.9,404.4C523,399.6 524.1,390.6 526.7,385.2C529.3,379.8 532.5,374.9 536.3,371.7C540.1,368.5 545.9,369.5 549.7,366C553.5,362.5 555.8,355.7 559.3,350.6C562.8,345.5 567,338.9 570.8,335.3C574.6,331.7 578.4,330.1 582.3,329.1C586.1,328.1 589.9,327.6 593.9,329.1C597.9,330.7 602.9,334.5 606.1,338.4C609.3,342.2 611,346.8 613,352.2C615,357.6 616.5,365.8 618.4,370.7C620.3,375.6 621.4,378.3 624.5,381.4C627.6,384.5 632.9,385.8 636.8,389.1C640.6,392.4 644.8,396.3 647.6,401.4C650.4,406.5 651.7,413.9 653.7,419.8C655.7,425.7 657.1,432.6 659.8,436.7C662.5,440.8 666.5,444.1 669.8,444.4C673.1,444.6 676.8,441.8 679.8,438.2C682.8,434.6 684.7,427.5 687.5,422.9C690.3,418.3 692.3,413.6 696.7,410.6C701.1,407.7 711.1,406.1 714,405.2" fill="none" stroke="#d0ecee" stroke-width="8.1" stroke-linejoin="round"/>
</g>
</defs>
<g clip-path="url(#cskin)"><use href="#skinf"/></g>
<rect x="355.2" y="651.7" width="132.4" height="153.3" rx="12.5" fill="#f9f9f9"/>
<rect x="582.7" y="204.4" width="131.3" height="154.1" rx="13.5" fill="#f9f9f9"/>
<g clip-path="url(#cbox)"><g clip-path="url(#cskin)"><use href="#skin"/></g></g>
<rect x="582.7" y="204.4" width="131.3" height="154.1" rx="13.5" fill="none" stroke="#3c3c3c" stroke-width="0.95"/>
<rect x="355.2" y="651.7" width="132.4" height="153.3" rx="12.5" fill="none" stroke="#3c3c3c" stroke-width="0.95"/>
<path class="ld2" d="M714,282.1H789M487.6,728H789"/>
<path class="ld" d="M40.1,131V300H68M76,200.4H68V400H76M76,410H68V887H76M68,621.5H40.1V923.6"/>
<defs><clipPath id="cp1"><path d="M803.6,205.5 H988.2 a8,8 0 0 1 8,8 V512.5 a8,8 0 0 1 -8,8 H803.6 a15,15 0 0 1 -15,-15 V220.5 a15,15 0 0 1 15,-15Z"/></clipPath>
<linearGradient id="p1bg" x1="0" y1="0" x2="0" y2="1"><stop offset="0" stop-color="#fefbf3"/><stop offset="0.2" stop-color="#fdf6ea"/><stop offset="0.24" stop-color="#fde3d6"/><stop offset="0.85" stop-color="#fde3d6"/><stop offset="0.86" stop-color="#fde7db"/><stop offset="1" stop-color="#fdf0e4"/></linearGradient></defs>
<rect x="788.6" y="205.5" width="378.3" height="315" rx="15" fill="#fff"/>
<g clip-path="url(#cp1)">
<rect x="788.6" y="205.5" width="207.6" height="315" fill="url(#p1bg)"/>
<rect x="788.6" y="281" width="207.6" height="152.5" fill="#fdd6c6"/>
<g fill="#fcebdc" stroke="#f6d6c2" stroke-width="0.8"><ellipse cx="734.5" cy="223.4" rx="25.8" ry="3.6"/><ellipse cx="789.2" cy="223.4" rx="25.8" ry="3.6"/><ellipse cx="844" cy="223.4" rx="25.8" ry="3.6"/><ellipse cx="898.7" cy="223.4" rx="25.8" ry="3.6"/><ellipse cx="953.5" cy="223.4" rx="25.8" ry="3.6"/><ellipse cx="1008.2" cy="223.4" rx="25.8" ry="3.6"/></g>
<g fill="#fcebdc" stroke="#f6d6c2" stroke-width="0.8"><ellipse cx="761.9" cy="231.9" rx="25.8" ry="3.6"/><ellipse cx="816.6" cy="231.9" rx="25.8" ry="3.6"/><ellipse cx="871.4" cy="231.9" rx="25.8" ry="3.6"/><ellipse cx="926.1" cy="231.9" rx="25.8" ry="3.6"/><ellipse cx="980.9" cy="231.9" rx="25.8" ry="3.6"/></g>
<g fill="#fcebdc" stroke="#f6d6c2" stroke-width="0.8"><ellipse cx="734.5" cy="240.6" rx="25.8" ry="3.6"/><ellipse cx="789.2" cy="240.6" rx="25.8" ry="3.6"/><ellipse cx="844" cy="240.6" rx="25.8" ry="3.6"/><ellipse cx="898.7" cy="240.6" rx="25.8" ry="3.6"/><ellipse cx="953.5" cy="240.6" rx="25.8" ry="3.6"/><ellipse cx="1008.2" cy="240.6" rx="25.8" ry="3.6"/></g>
<g fill="#fcd9a6" stroke="#eec39c" stroke-width="0.8"><ellipse cx="761.9" cy="251.2" rx="25.4" ry="4.6"/><ellipse cx="816.6" cy="251.2" rx="25.4" ry="4.6"/><ellipse cx="871.4" cy="251.2" rx="25.4" ry="4.6"/><ellipse cx="926.1" cy="251.2" rx="25.4" ry="4.6"/><ellipse cx="980.9" cy="251.2" rx="25.4" ry="4.6"/></g><g fill="#f0a678"><ellipse cx="761.9" cy="251.2" rx="7.2" ry="1.4"/><ellipse cx="816.6" cy="251.2" rx="7.2" ry="1.4"/><ellipse cx="871.4" cy="251.2" rx="7.2" ry="1.4"/><ellipse cx="926.1" cy="251.2" rx="7.2" ry="1.4"/><ellipse cx="980.9" cy="251.2" rx="7.2" ry="1.4"/></g>
<g fill="#fcd9a6" stroke="#eec39c" stroke-width="0.8"><ellipse cx="734.5" cy="262.1" rx="25.4" ry="4.6"/><ellipse cx="789.2" cy="262.1" rx="25.4" ry="4.6"/><ellipse cx="844" cy="262.1" rx="25.4" ry="4.6"/><ellipse cx="898.7" cy="262.1" rx="25.4" ry="4.6"/><ellipse cx="953.5" cy="262.1" rx="25.4" ry="4.6"/><ellipse cx="1008.2" cy="262.1" rx="25.4" ry="4.6"/></g><g fill="#f0a678"><ellipse cx="734.5" cy="262.1" rx="7.2" ry="1.4"/><ellipse cx="789.2" cy="262.1" rx="7.2" ry="1.4"/><ellipse cx="844" cy="262.1" rx="7.2" ry="1.4"/><ellipse cx="898.7" cy="262.1" rx="7.2" ry="1.4"/><ellipse cx="953.5" cy="262.1" rx="7.2" ry="1.4"/><ellipse cx="1008.2" cy="262.1" rx="7.2" ry="1.4"/></g>
<g fill="#fcd9a6" stroke="#eec39c" stroke-width="0.8"><ellipse cx="761.9" cy="273.2" rx="25.4" ry="4.6"/><ellipse cx="816.6" cy="273.2" rx="25.4" ry="4.6"/><ellipse cx="871.4" cy="273.2" rx="25.4" ry="4.6"/><ellipse cx="926.1" cy="273.2" rx="25.4" ry="4.6"/><ellipse cx="980.9" cy="273.2" rx="25.4" ry="4.6"/></g><g fill="#f0a678"><ellipse cx="761.9" cy="273.2" rx="7.2" ry="1.4"/><ellipse cx="816.6" cy="273.2" rx="7.2" ry="1.4"/><ellipse cx="871.4" cy="273.2" rx="7.2" ry="1.4"/><ellipse cx="926.1" cy="273.2" rx="7.2" ry="1.4"/><ellipse cx="980.9" cy="273.2" rx="7.2" ry="1.4"/></g>
<g fill="#fbece5" stroke="#c8b4ad" stroke-width="0.9"><rect x="771.3" y="279.6" width="29.5" height="37.9" rx="9.5"/><rect x="801.4" y="279.6" width="29.5" height="37.9" rx="9.5"/><rect x="831.5" y="279.6" width="29.5" height="37.9" rx="9.5"/><rect x="861.6" y="279.6" width="29.5" height="37.9" rx="9.5"/><rect x="891.6" y="279.6" width="29.5" height="37.9" rx="9.5"/><rect x="921.7" y="279.6" width="29.5" height="37.9" rx="9.5"/><rect x="951.8" y="279.6" width="29.5" height="37.9" rx="9.5"/><rect x="981.9" y="279.6" width="29.5" height="37.9" rx="9.5"/><rect x="771.3" y="318.1" width="29.5" height="37.9" rx="9.5"/><rect x="801.4" y="318.1" width="29.5" height="37.9" rx="9.5"/><rect x="831.5" y="318.1" width="29.5" height="37.9" rx="9.5"/><rect x="861.6" y="318.1" width="29.5" height="37.9" rx="9.5"/><rect x="891.6" y="318.1" width="29.5" height="37.9" rx="9.5"/><rect x="921.7" y="318.1" width="29.5" height="37.9" rx="9.5"/><rect x="951.8" y="318.1" width="29.5" height="37.9" rx="9.5"/><rect x="981.9" y="318.1" width="29.5" height="37.9" rx="9.5"/><rect x="771.3" y="356.6" width="29.5" height="37.9" rx="9.5"/><rect x="801.4" y="356.6" width="29.5" height="37.9" rx="9.5"/><rect x="831.5" y="356.6" width="29.5" height="37.9" rx="9.5"/><rect x="861.6" y="356.6" width="29.5" height="37.9" rx="9.5"/><rect x="891.6" y="356.6" width="29.5" height="37.9" rx="9.5"/><rect x="921.7" y="356.6" width="29.5" height="37.9" rx="9.5"/><rect x="951.8" y="356.6" width="29.5" height="37.9" rx="9.5"/><rect x="981.9" y="356.6" width="29.5" height="37.9" rx="9.5"/><rect x="771.3" y="395.1" width="29.5" height="37.9" rx="9.5"/><rect x="801.4" y="395.1" width="29.5" height="37.9" rx="9.5"/><rect x="831.5" y="395.1" width="29.5" height="37.9" rx="9.5"/><rect x="861.6" y="395.1" width="29.5" height="37.9" rx="9.5"/><rect x="891.6" y="395.1" width="29.5" height="37.9" rx="9.5"/><rect x="921.7" y="395.1" width="29.5" height="37.9" rx="9.5"/><rect x="951.8" y="395.1" width="29.5" height="37.9" rx="9.5"/><rect x="981.9" y="395.1" width="29.5" height="37.9" rx="9.5"/></g><g fill="#fdc2a2"><ellipse cx="786.1" cy="298.6" rx="5.8" ry="8.1"/><ellipse cx="816.1" cy="298.6" rx="5.8" ry="8.1"/><ellipse cx="846.2" cy="298.6" rx="5.8" ry="8.1"/><ellipse cx="876.3" cy="298.6" rx="5.8" ry="8.1"/><ellipse cx="906.4" cy="298.6" rx="5.8" ry="8.1"/><ellipse cx="936.5" cy="298.6" rx="5.8" ry="8.1"/><ellipse cx="966.5" cy="298.6" rx="5.8" ry="8.1"/><ellipse cx="996.6" cy="298.6" rx="5.8" ry="8.1"/><ellipse cx="786.1" cy="337.1" rx="5.8" ry="8.1"/><ellipse cx="816.1" cy="337.1" rx="5.8" ry="8.1"/><ellipse cx="846.2" cy="337.1" rx="5.8" ry="8.1"/><ellipse cx="876.3" cy="337.1" rx="5.8" ry="8.1"/><ellipse cx="906.4" cy="337.1" rx="5.8" ry="8.1"/><ellipse cx="936.5" cy="337.1" rx="5.8" ry="8.1"/><ellipse cx="966.5" cy="337.1" rx="5.8" ry="8.1"/><ellipse cx="996.6" cy="337.1" rx="5.8" ry="8.1"/><ellipse cx="786.1" cy="375.6" rx="5.8" ry="8.1"/><ellipse cx="816.1" cy="375.6" rx="5.8" ry="8.1"/><ellipse cx="846.2" cy="375.6" rx="5.8" ry="8.1"/><ellipse cx="876.3" cy="375.6" rx="5.8" ry="8.1"/><ellipse cx="906.4" cy="375.6" rx="5.8" ry="8.1"/><ellipse cx="936.5" cy="375.6" rx="5.8" ry="8.1"/><ellipse cx="966.5" cy="375.6" rx="5.8" ry="8.1"/><ellipse cx="996.6" cy="375.6" rx="5.8" ry="8.1"/><ellipse cx="786.1" cy="414.1" rx="5.8" ry="8.1"/><ellipse cx="816.1" cy="414.1" rx="5.8" ry="8.1"/><ellipse cx="846.2" cy="414.1" rx="5.8" ry="8.1"/><ellipse cx="876.3" cy="414.1" rx="5.8" ry="8.1"/><ellipse cx="906.4" cy="414.1" rx="5.8" ry="8.1"/><ellipse cx="936.5" cy="414.1" rx="5.8" ry="8.1"/><ellipse cx="966.5" cy="414.1" rx="5.8" ry="8.1"/><ellipse cx="996.6" cy="414.1" rx="5.8" ry="8.1"/></g>
<g fill="#b3e3e6" stroke="#8ccbd1" stroke-width="0.9"><rect x="771.3" y="433.7" width="29.5" height="37.8" rx="9.5"/><rect x="801.4" y="433.7" width="29.5" height="37.8" rx="9.5"/><rect x="831.5" y="433.7" width="29.5" height="37.8" rx="9.5"/><rect x="861.6" y="433.7" width="29.5" height="37.8" rx="9.5"/><rect x="921.7" y="433.7" width="29.5" height="37.8" rx="9.5"/><rect x="951.8" y="433.7" width="29.5" height="37.8" rx="9.5"/><rect x="981.9" y="433.7" width="29.5" height="37.8" rx="9.5"/></g><g fill="#62aab5"><ellipse cx="786.1" cy="451.6" rx="5.8" ry="8.1"/><ellipse cx="816.1" cy="451.6" rx="5.8" ry="8.1"/><ellipse cx="846.2" cy="451.6" rx="5.8" ry="8.1"/><ellipse cx="876.3" cy="451.6" rx="5.8" ry="8.1"/><ellipse cx="936.5" cy="451.6" rx="5.8" ry="8.1"/><ellipse cx="966.5" cy="451.6" rx="5.8" ry="8.1"/><ellipse cx="996.6" cy="451.6" rx="5.8" ry="8.1"/></g>
<path d="M831.4,428.8 Q832.7,432.3 843.3,432.6 L849,432.6 Q860.5,432.6 861.5,418.8 L861.5,334.5 Q861.5,319.2 845.2,316.3 L830.2,314.8 M861.5,418.8 Q862.4,432.6 875.8,432.6 L891.6,433.2 M890.8,433.2 L890.8,336 M890.8,433.2 L921.3,433.2 M921.3,433.2 L921.3,385.7 M921.3,433.2 L937.2,432.6 Q950.6,432.6 951.9,418.8 L951.9,332.6 Q951.6,320.1 933.3,318.6 M951.9,418.8 Q953.5,432.6 965.9,432.6 L971.7,432.6 Q979.3,432.6 980.7,430.7 M861.5,365.2 Q860.5,356.9 852.8,356.5 L845.6,356.2 M861.5,406.4 Q860.5,394.9 847.1,393.9 Q828.9,392 828.3,376.7 Q828.9,356 812.6,355.6 Q804.9,355.6 801.1,357.9 M890.8,365.2 Q891.8,356.9 898.8,356.5 L906.5,355.8 M890.8,404.5 Q889.8,395.3 883.5,394.7 L877.2,394.1 M921.3,404.5 Q922.2,395.3 928.6,394.7 L936.2,394.1 M951.9,365.2 Q952.9,356.9 960.2,356.5 L966.9,355.8 M951.9,406.4 Q952.9,395.3 965.9,393.9 Q981.3,392 983.2,381.5 " fill="none" stroke="#4a2418" stroke-width="4.4" stroke-linecap="round" stroke-linejoin="round"/>
<rect x="891.6" y="434.2" width="29.7" height="38" rx="7" fill="#ad6a50" stroke="#3a1c12" stroke-width="1"/>
<path d="M831.4,428.8 Q832.7,432.3 843.3,432.6 L849,432.6 Q860.5,432.6 861.5,418.8 L861.5,334.5 Q861.5,319.2 845.2,316.3 L830.2,314.8 M861.5,418.8 Q862.4,432.6 875.8,432.6 L891.6,433.2 M890.8,433.2 L890.8,336 M890.8,433.2 L921.3,433.2 M921.3,433.2 L921.3,385.7 M921.3,433.2 L937.2,432.6 Q950.6,432.6 951.9,418.8 L951.9,332.6 Q951.6,320.1 933.3,318.6 M951.9,418.8 Q953.5,432.6 965.9,432.6 L971.7,432.6 Q979.3,432.6 980.7,430.7 M861.5,365.2 Q860.5,356.9 852.8,356.5 L845.6,356.2 M861.5,406.4 Q860.5,394.9 847.1,393.9 Q828.9,392 828.3,376.7 Q828.9,356 812.6,355.6 Q804.9,355.6 801.1,357.9 M890.8,365.2 Q891.8,356.9 898.8,356.5 L906.5,355.8 M890.8,404.5 Q889.8,395.3 883.5,394.7 L877.2,394.1 M921.3,404.5 Q922.2,395.3 928.6,394.7 L936.2,394.1 M951.9,365.2 Q952.9,356.9 960.2,356.5 L966.9,355.8 M951.9,406.4 Q952.9,395.3 965.9,393.9 Q981.3,392 983.2,381.5 " fill="none" stroke="#ad6a50" stroke-width="2.6" stroke-linecap="round" stroke-linejoin="round"/>
<ellipse cx="906.5" cy="451.6" rx="6" ry="8" fill="#5e2c1f" stroke="#1e0d08" stroke-width="1"/>
<g fill="#a9664c" stroke="#4a2418" stroke-width="0.9"><circle cx="812.6" cy="308.6" r="1.75"/><circle cx="819.9" cy="307.7" r="1.75"/><circle cx="834.6" cy="305.4" r="1.75"/><circle cx="857.1" cy="306.1" r="1.75"/><circle cx="801.7" cy="314" r="1.75"/><circle cx="850.9" cy="312.8" r="1.75"/><circle cx="861.5" cy="316.3" r="1.75"/><circle cx="869.5" cy="314.4" r="1.75"/><circle cx="875.8" cy="309.2" r="1.75"/><circle cx="886" cy="309.2" r="1.75"/><circle cx="822.2" cy="319.2" r="1.75"/><circle cx="829.3" cy="324.5" r="1.75"/><circle cx="839.4" cy="322.4" r="1.75"/><circle cx="866.8" cy="324.3" r="1.75"/><circle cx="873" cy="320.3" r="1.75"/><circle cx="882.5" cy="320.7" r="1.75"/><circle cx="892.7" cy="322.4" r="1.75"/><circle cx="906.5" cy="318.8" r="1.75"/><circle cx="915.3" cy="310.5" r="1.75"/><circle cx="927.6" cy="310.5" r="1.75"/><circle cx="941" cy="310.5" r="1.75"/><circle cx="946.8" cy="305.4" r="1.75"/><circle cx="954" cy="316.3" r="1.75"/><circle cx="960.2" cy="312.8" r="1.75"/><circle cx="972.3" cy="316.3" r="1.75"/><circle cx="954.8" cy="321.5" r="1.75"/><circle cx="934.9" cy="324.9" r="1.75"/><circle cx="944.8" cy="328.8" r="1.75"/><circle cx="967.8" cy="324.5" r="1.75"/><circle cx="987" cy="324" r="1.75"/><circle cx="966.5" cy="333.2" r="1.75"/><circle cx="973.6" cy="347.5" r="1.75"/><circle cx="852.5" cy="340.3" r="1.75"/><circle cx="902.3" cy="347.5" r="1.75"/><circle cx="832.7" cy="356.5" r="1.75"/><circle cx="807.8" cy="361.3" r="1.75"/><circle cx="799.7" cy="367.5" r="1.75"/><circle cx="981.3" cy="361.3" r="1.75"/><circle cx="961.7" cy="367.1" r="1.75"/><circle cx="937.6" cy="375.9" r="1.75"/><circle cx="881" cy="377.6" r="1.75"/><circle cx="843.6" cy="386.8" r="1.75"/><circle cx="928.2" cy="388.6" r="1.75"/><circle cx="900.2" cy="396.8" r="1.75"/><circle cx="882.5" cy="406" r="1.75"/><circle cx="980.7" cy="394.9" r="1.75"/><circle cx="970.7" cy="401.2" r="1.75"/><circle cx="836" cy="426.9" r="1.75"/><circle cx="938.5" cy="426.9" r="1.75"/></g>
</g>
<rect x="788.6" y="205.5" width="378.3" height="315" rx="15" fill="none" stroke="#454545" stroke-width="1.1"/>
<path class="ld2" d="M967,298H1016.5M967,451.3H1016.5"/>
<defs><clipPath id="cp2"><rect x="788.6" y="567" width="378.3" height="315" rx="15"/></clipPath></defs>
<rect x="788.6" y="567" width="378.3" height="315" rx="15" fill="#fff"/>
<g clip-path="url(#cp2)">
<path d="M894,560C894,561.2 894.2,561.2 894,567.3C893.8,573.4 893.4,585.7 892.7,596.7C892,607.7 891.1,622.9 889.9,633.3C888.7,643.7 887.3,650.4 885.3,659C883.3,667.6 880.4,677.7 878,684.7C875.6,691.7 871.9,698.5 870.7,701.2L936.7,703C935.8,700 933.4,692 931.2,684.7C929.1,677.4 925.9,667.6 923.8,659C921.6,650.4 919.8,643.7 918.3,633.3C916.8,622.9 915.6,607.7 914.7,596.7C913.9,585.7 913.5,573.4 913.2,567.3C913,561.2 913.2,561.2 913.2,560Z" fill="#fdc79f" stroke="#dfa57d" stroke-width="0.9"/>
<defs><clipPath id="cbulb"><path d="M916.5,845.8C919.5,842.8 929.3,833.9 934.8,827.5C940.3,821.1 945.5,814.3 949.5,807.3C953.5,800.3 956.6,792.6 958.7,785.3C960.8,778 962,770 962.3,763.3C962.6,756.6 962.3,751.7 960.5,745C958.7,738.3 955.3,729.7 951.3,723C947.3,716.3 942.2,709.4 936.7,704.7C931.2,700 924.1,696.7 918.3,694.6C912.5,692.5 907,692.4 901.8,692.2C896.6,692.1 892.4,692.1 887.2,693.7C882,695.3 875.9,697.9 870.7,701.9C865.5,705.9 860.3,711.2 856,717.5C851.7,723.8 847.5,732.2 845,739.5C842.5,746.8 841.4,753.9 841.3,761.5C841.1,769.1 842,777.3 844.1,785.3C846.2,793.2 850.1,801.9 854.2,809.2C858.3,816.5 863.3,823.2 868.8,829.3C874.3,835.4 884.1,843 887.2,845.8L895,847.7 L894.4,836.7 L892.2,825.7 L888.1,812.8 L885.3,800 L885.3,789 L889,780.8 L896.3,776.2 L904.6,775.3 L912.8,777.1 L919.3,783.5 L920.2,792.7 L918.3,807.3 L914.7,822 L911,834.8 L909.2,845.8Z"/></clipPath></defs>
<path d="M916.5,845.8C919.5,842.8 929.3,833.9 934.8,827.5C940.3,821.1 945.5,814.3 949.5,807.3C953.5,800.3 956.6,792.6 958.7,785.3C960.8,778 962,770 962.3,763.3C962.6,756.6 962.3,751.7 960.5,745C958.7,738.3 955.3,729.7 951.3,723C947.3,716.3 942.2,709.4 936.7,704.7C931.2,700 924.1,696.7 918.3,694.6C912.5,692.5 907,692.4 901.8,692.2C896.6,692.1 892.4,692.1 887.2,693.7C882,695.3 875.9,697.9 870.7,701.9C865.5,705.9 860.3,711.2 856,717.5C851.7,723.8 847.5,732.2 845,739.5C842.5,746.8 841.4,753.9 841.3,761.5C841.1,769.1 842,777.3 844.1,785.3C846.2,793.2 850.1,801.9 854.2,809.2C858.3,816.5 863.3,823.2 868.8,829.3C874.3,835.4 884.1,843 887.2,845.8L895,847.7 L894.4,836.7 L892.2,825.7 L888.1,812.8 L885.3,800 L885.3,789 L889,780.8 L896.3,776.2 L904.6,775.3 L912.8,777.1 L919.3,783.5 L920.2,792.7 L918.3,807.3 L914.7,822 L911,834.8 L909.2,845.8Z" fill="#ffd161"/>
<g clip-path="url(#cbulb)" fill="#ffd161" stroke="#fff1cc" stroke-width="1.1"><circle cx="802.8" cy="695.9" r="9.6"/><circle cx="821.4" cy="695.9" r="9.6"/><circle cx="840" cy="695.9" r="9.6"/><circle cx="858.7" cy="695.9" r="9.6"/><circle cx="877.4" cy="695.9" r="9.6"/><circle cx="896" cy="695.9" r="9.6"/><circle cx="914.6" cy="695.9" r="9.6"/><circle cx="933.3" cy="695.9" r="9.6"/><circle cx="952" cy="695.9" r="9.6"/><circle cx="970.6" cy="695.9" r="9.6"/><circle cx="989.2" cy="695.9" r="9.6"/><circle cx="812" cy="709.8" r="9.6"/><circle cx="830.7" cy="709.8" r="9.6"/><circle cx="849.3" cy="709.8" r="9.6"/><circle cx="868" cy="709.8" r="9.6"/><circle cx="886.6" cy="709.8" r="9.6"/><circle cx="905.3" cy="709.8" r="9.6"/><circle cx="923.9" cy="709.8" r="9.6"/><circle cx="942.6" cy="709.8" r="9.6"/><circle cx="961.2" cy="709.8" r="9.6"/><circle cx="979.9" cy="709.8" r="9.6"/><circle cx="998.5" cy="709.8" r="9.6"/><circle cx="802.8" cy="723.7" r="9.6"/><circle cx="821.4" cy="723.7" r="9.6"/><circle cx="840" cy="723.7" r="9.6"/><circle cx="858.7" cy="723.7" r="9.6"/><circle cx="877.4" cy="723.7" r="9.6"/><circle cx="896" cy="723.7" r="9.6"/><circle cx="914.6" cy="723.7" r="9.6"/><circle cx="933.3" cy="723.7" r="9.6"/><circle cx="952" cy="723.7" r="9.6"/><circle cx="970.6" cy="723.7" r="9.6"/><circle cx="989.2" cy="723.7" r="9.6"/><circle cx="812" cy="737.6" r="9.6"/><circle cx="830.7" cy="737.6" r="9.6"/><circle cx="849.3" cy="737.6" r="9.6"/><circle cx="868" cy="737.6" r="9.6"/><circle cx="886.6" cy="737.6" r="9.6"/><circle cx="905.3" cy="737.6" r="9.6"/><circle cx="923.9" cy="737.6" r="9.6"/><circle cx="942.6" cy="737.6" r="9.6"/><circle cx="961.2" cy="737.6" r="9.6"/><circle cx="979.9" cy="737.6" r="9.6"/><circle cx="998.5" cy="737.6" r="9.6"/><circle cx="802.8" cy="751.5" r="9.6"/><circle cx="821.4" cy="751.5" r="9.6"/><circle cx="840" cy="751.5" r="9.6"/><circle cx="858.7" cy="751.5" r="9.6"/><circle cx="877.4" cy="751.5" r="9.6"/><circle cx="896" cy="751.5" r="9.6"/><circle cx="914.6" cy="751.5" r="9.6"/><circle cx="933.3" cy="751.5" r="9.6"/><circle cx="952" cy="751.5" r="9.6"/><circle cx="970.6" cy="751.5" r="9.6"/><circle cx="989.2" cy="751.5" r="9.6"/><circle cx="812" cy="765.4" r="9.6"/><circle cx="830.7" cy="765.4" r="9.6"/><circle cx="849.3" cy="765.4" r="9.6"/><circle cx="868" cy="765.4" r="9.6"/><circle cx="886.6" cy="765.4" r="9.6"/><circle cx="905.3" cy="765.4" r="9.6"/><circle cx="923.9" cy="765.4" r="9.6"/><circle cx="942.6" cy="765.4" r="9.6"/><circle cx="961.2" cy="765.4" r="9.6"/><circle cx="979.9" cy="765.4" r="9.6"/><circle cx="998.5" cy="765.4" r="9.6"/><circle cx="802.8" cy="779.3" r="9.6"/><circle cx="821.4" cy="779.3" r="9.6"/><circle cx="840" cy="779.3" r="9.6"/><circle cx="858.7" cy="779.3" r="9.6"/><circle cx="877.4" cy="779.3" r="9.6"/><circle cx="896" cy="779.3" r="9.6"/><circle cx="914.6" cy="779.3" r="9.6"/><circle cx="933.3" cy="779.3" r="9.6"/><circle cx="952" cy="779.3" r="9.6"/><circle cx="970.6" cy="779.3" r="9.6"/><circle cx="989.2" cy="779.3" r="9.6"/><circle cx="812" cy="793.2" r="9.6"/><circle cx="830.7" cy="793.2" r="9.6"/><circle cx="849.3" cy="793.2" r="9.6"/><circle cx="868" cy="793.2" r="9.6"/><circle cx="886.6" cy="793.2" r="9.6"/><circle cx="905.3" cy="793.2" r="9.6"/><circle cx="923.9" cy="793.2" r="9.6"/><circle cx="942.6" cy="793.2" r="9.6"/><circle cx="961.2" cy="793.2" r="9.6"/><circle cx="979.9" cy="793.2" r="9.6"/><circle cx="998.5" cy="793.2" r="9.6"/><circle cx="802.8" cy="807.1" r="9.6"/><circle cx="821.4" cy="807.1" r="9.6"/><circle cx="840" cy="807.1" r="9.6"/><circle cx="858.7" cy="807.1" r="9.6"/><circle cx="877.4" cy="807.1" r="9.6"/><circle cx="896" cy="807.1" r="9.6"/><circle cx="914.6" cy="807.1" r="9.6"/><circle cx="933.3" cy="807.1" r="9.6"/><circle cx="952" cy="807.1" r="9.6"/><circle cx="970.6" cy="807.1" r="9.6"/><circle cx="989.2" cy="807.1" r="9.6"/><circle cx="812" cy="821" r="9.6"/><circle cx="830.7" cy="821" r="9.6"/><circle cx="849.3" cy="821" r="9.6"/><circle cx="868" cy="821" r="9.6"/><circle cx="886.6" cy="821" r="9.6"/><circle cx="905.3" cy="821" r="9.6"/><circle cx="923.9" cy="821" r="9.6"/><circle cx="942.6" cy="821" r="9.6"/><circle cx="961.2" cy="821" r="9.6"/><circle cx="979.9" cy="821" r="9.6"/><circle cx="998.5" cy="821" r="9.6"/><circle cx="802.8" cy="834.9" r="9.6"/><circle cx="821.4" cy="834.9" r="9.6"/><circle cx="840" cy="834.9" r="9.6"/><circle cx="858.7" cy="834.9" r="9.6"/><circle cx="877.4" cy="834.9" r="9.6"/><circle cx="896" cy="834.9" r="9.6"/><circle cx="914.6" cy="834.9" r="9.6"/><circle cx="933.3" cy="834.9" r="9.6"/><circle cx="952" cy="834.9" r="9.6"/><circle cx="970.6" cy="834.9" r="9.6"/><circle cx="989.2" cy="834.9" r="9.6"/><circle cx="812" cy="848.8" r="9.6"/><circle cx="830.7" cy="848.8" r="9.6"/><circle cx="849.3" cy="848.8" r="9.6"/><circle cx="868" cy="848.8" r="9.6"/><circle cx="886.6" cy="848.8" r="9.6"/><circle cx="905.3" cy="848.8" r="9.6"/><circle cx="923.9" cy="848.8" r="9.6"/><circle cx="942.6" cy="848.8" r="9.6"/><circle cx="961.2" cy="848.8" r="9.6"/><circle cx="979.9" cy="848.8" r="9.6"/><circle cx="998.5" cy="848.8" r="9.6"/><circle cx="802.8" cy="862.7" r="9.6"/><circle cx="821.4" cy="862.7" r="9.6"/><circle cx="840" cy="862.7" r="9.6"/><circle cx="858.7" cy="862.7" r="9.6"/><circle cx="877.4" cy="862.7" r="9.6"/><circle cx="896" cy="862.7" r="9.6"/><circle cx="914.6" cy="862.7" r="9.6"/><circle cx="933.3" cy="862.7" r="9.6"/><circle cx="952" cy="862.7" r="9.6"/><circle cx="970.6" cy="862.7" r="9.6"/><circle cx="989.2" cy="862.7" r="9.6"/></g>
<path d="M916.5,845.8C919.5,842.8 929.3,833.9 934.8,827.5C940.3,821.1 945.5,814.3 949.5,807.3C953.5,800.3 956.6,792.6 958.7,785.3C960.8,778 962,770 962.3,763.3C962.6,756.6 962.3,751.7 960.5,745C958.7,738.3 955.3,729.7 951.3,723C947.3,716.3 942.2,709.4 936.7,704.7C931.2,700 924.1,696.7 918.3,694.6C912.5,692.5 907,692.4 901.8,692.2C896.6,692.1 892.4,692.1 887.2,693.7C882,695.3 875.9,697.9 870.7,701.9C865.5,705.9 860.3,711.2 856,717.5C851.7,723.8 847.5,732.2 845,739.5C842.5,746.8 841.4,753.9 841.3,761.5C841.1,769.1 842,777.3 844.1,785.3C846.2,793.2 850.1,801.9 854.2,809.2C858.3,816.5 863.3,823.2 868.8,829.3C874.3,835.4 884.1,843 887.2,845.8" fill="none" stroke="#dfa05c" stroke-width="0.8"/>
<path d="M867.3,560C867.2,561.2 867.4,563.6 867,567.3C866.6,571 866.1,577.1 865.2,582C864.3,586.9 863.6,590.6 861.5,596.7C859.4,602.8 855.7,611.4 852.3,618.7C848.9,626 845.3,633.4 841.3,640.7C837.3,648 832.5,655.4 828.5,662.7C824.5,670 820.2,677.4 817.5,684.7C814.8,692 813.2,699.2 812,706.7C810.8,714.2 810.5,723.6 810.2,730C809.9,736.4 809.8,738.8 810.2,745C810.7,751.2 811.2,759.7 812.9,767C814.6,774.3 817.1,782 820.3,789C823.5,796 827.5,802.8 832.2,809.2C836.9,815.6 842.9,822 848.7,827.5C854.5,833 861.2,838.2 867,842.2C872.8,846.2 879.4,849.6 883.5,851.3C887.6,853 889.8,852.8 891.7,852.2C893.6,851.6 894.5,850.3 895,847.7C895.5,845.1 894.9,840.4 894.4,836.7C893.9,833 893.2,829.7 892.2,825.7C891.2,821.7 889.2,817.1 888.1,812.8C887,808.5 885.8,804 885.3,800C884.8,796 884.7,792.2 885.3,789C885.9,785.8 887.2,782.9 889,780.8C890.8,778.7 893.7,777.1 896.3,776.2C898.9,775.3 901.9,775.1 904.6,775.3C907.4,775.4 910.3,775.7 912.8,777.1C915.2,778.5 918.1,780.9 919.3,783.5C920.5,786.1 920.4,788.7 920.2,792.7C920,796.7 919.2,802.4 918.3,807.3C917.4,812.2 915.9,817.4 914.7,822C913.5,826.6 911.9,830.8 911,834.8C910.1,838.8 909.1,842.9 909.2,845.8C909.4,848.7 910.1,851.1 911.9,852.2C913.7,853.3 916.4,853.3 920.2,852.2C924,851.1 929.6,849 934.8,845.8C940,842.6 946.1,837.9 951.3,833C956.5,828.1 961.4,822.3 966,816.5C970.6,810.7 975.1,804.6 978.8,798.2C982.5,791.8 985.5,785 988,778C990.5,771 992.3,763.3 993.5,756C994.7,748.7 995,738.3 995.3,734C995.5,729.7 995.5,734.5 995,730C994.5,725.5 993.9,714.2 992.6,706.7C991.3,699.2 989.7,691.7 987.1,684.7C984.5,677.7 980.8,671.2 977,664.5C973.2,657.8 968.5,651 964.2,644.3C959.9,637.6 955.1,631.2 951.3,624.2C947.5,617.2 943.7,609.2 941.3,602.2C938.9,595.2 937.7,587.8 936.7,582C935.7,576.2 935.6,571 935.4,567.3C935.1,563.6 935.2,561.2 935.2,560" fill="none" stroke="#6ab2ba" stroke-width="11.6" stroke-linejoin="round"/>
<path d="M867.3,560C867.2,561.2 867.4,563.6 867,567.3C866.6,571 866.1,577.1 865.2,582C864.3,586.9 863.6,590.6 861.5,596.7C859.4,602.8 855.7,611.4 852.3,618.7C848.9,626 845.3,633.4 841.3,640.7C837.3,648 832.5,655.4 828.5,662.7C824.5,670 820.2,677.4 817.5,684.7C814.8,692 813.2,699.2 812,706.7C810.8,714.2 810.5,723.6 810.2,730C809.9,736.4 809.8,738.8 810.2,745C810.7,751.2 811.2,759.7 812.9,767C814.6,774.3 817.1,782 820.3,789C823.5,796 827.5,802.8 832.2,809.2C836.9,815.6 842.9,822 848.7,827.5C854.5,833 861.2,838.2 867,842.2C872.8,846.2 879.4,849.6 883.5,851.3C887.6,853 889.8,852.8 891.7,852.2C893.6,851.6 894.5,850.3 895,847.7C895.5,845.1 894.9,840.4 894.4,836.7C893.9,833 893.2,829.7 892.2,825.7C891.2,821.7 889.2,817.1 888.1,812.8C887,808.5 885.8,804 885.3,800C884.8,796 884.7,792.2 885.3,789C885.9,785.8 887.2,782.9 889,780.8C890.8,778.7 893.7,777.1 896.3,776.2C898.9,775.3 901.9,775.1 904.6,775.3C907.4,775.4 910.3,775.7 912.8,777.1C915.2,778.5 918.1,780.9 919.3,783.5C920.5,786.1 920.4,788.7 920.2,792.7C920,796.7 919.2,802.4 918.3,807.3C917.4,812.2 915.9,817.4 914.7,822C913.5,826.6 911.9,830.8 911,834.8C910.1,838.8 909.1,842.9 909.2,845.8C909.4,848.7 910.1,851.1 911.9,852.2C913.7,853.3 916.4,853.3 920.2,852.2C924,851.1 929.6,849 934.8,845.8C940,842.6 946.1,837.9 951.3,833C956.5,828.1 961.4,822.3 966,816.5C970.6,810.7 975.1,804.6 978.8,798.2C982.5,791.8 985.5,785 988,778C990.5,771 992.3,763.3 993.5,756C994.7,748.7 995,738.3 995.3,734C995.5,729.7 995.5,734.5 995,730C994.5,725.5 993.9,714.2 992.6,706.7C991.3,699.2 989.7,691.7 987.1,684.7C984.5,677.7 980.8,671.2 977,664.5C973.2,657.8 968.5,651 964.2,644.3C959.9,637.6 955.1,631.2 951.3,624.2C947.5,617.2 943.7,609.2 941.3,602.2C938.9,595.2 937.7,587.8 936.7,582C935.7,576.2 935.6,571 935.4,567.3C935.1,563.6 935.2,561.2 935.2,560" fill="none" stroke="#b4e3e6" stroke-width="10.1" stroke-linejoin="round"/>
<defs><clipPath id="ctop2"><rect x="840" y="560" width="60" height="30"/><rect x="910" y="560" width="60" height="33"/></clipPath></defs>
<g clip-path="url(#ctop2)"><path d="M867.3,560C867.2,561.2 867.4,563.6 867,567.3C866.6,571 866.1,577.1 865.2,582C864.3,586.9 863.6,590.6 861.5,596.7C859.4,602.8 855.7,611.4 852.3,618.7C848.9,626 843.1,637 841.3,640.7" fill="none" stroke="#9fd5db" stroke-width="11.6"/><path d="M867.3,560C867.2,561.2 867.4,563.6 867,567.3C866.6,571 866.1,577.1 865.2,582C864.3,586.9 863.6,590.6 861.5,596.7C859.4,602.8 855.7,611.4 852.3,618.7C848.9,626 843.1,637 841.3,640.7" fill="none" stroke="#bbe6e9" stroke-width="10.4"/></g>
<g clip-path="url(#ctop2)"><path d="M964.2,644.3C962.1,640.9 955.1,631.2 951.3,624.2C947.5,617.2 943.7,609.2 941.3,602.2C938.9,595.2 937.7,587.8 936.7,582C935.7,576.2 935.6,571 935.4,567.3C935.1,563.6 935.2,561.2 935.2,560" fill="none" stroke="#9fd5db" stroke-width="11.6"/><path d="M964.2,644.3C962.1,640.9 955.1,631.2 951.3,624.2C947.5,617.2 943.7,609.2 941.3,602.2C938.9,595.2 937.7,587.8 936.7,582C935.7,576.2 935.6,571 935.4,567.3C935.1,563.6 935.2,561.2 935.2,560" fill="none" stroke="#bbe6e9" stroke-width="10.4"/></g>
<path d="M858.8,588 L868.7,590.4M856.8,594.6 L866.5,597.9M854.3,601.4 L863.7,605.2M851.4,608.1 L860.8,612.2M848.4,614.9 L857.7,619.1M845.4,621.5 L854.6,625.8M842.2,628 L851.3,632.5M838.8,634.5 L847.9,639.2M835.3,640.9 L844.2,646M831.5,647.4 L840.3,652.7M827.5,654.1 L836.3,659.2M823.7,660.8 L832.7,665.7M820.1,667.4 L829.1,672.3M816.6,674.2 L825.7,678.7M813.4,681.1 L822.9,685M810.8,688.7 L820.5,691.6M808.8,696.1 L818.8,698.4M807.3,703.6 L817.4,705.3M806.2,711.5 L816.4,712.5M805.6,719.1 L815.8,719.7M805.2,726.7 L815.4,727.2M804.9,734 L815.1,734.4M804.9,741.9 L815.1,741.5M805.4,749.3 L815.6,748.6M806.1,756.7 L816.2,755.6M807.2,764.5 L817.2,762.7M808.9,772.2 L818.8,769.6M811.2,779.7 L820.9,776.5M814,787.2 L823.4,783.3M817.2,794.4 L826.4,789.9M821,801.4 L829.8,796.3M825.2,808.2 L833.7,802.5M830,814.8 L838,808.5M835,820.7 L842.6,813.9M840.3,826.3 L847.6,819.2M845.6,831.6 L852.6,824.2M851.3,836.6 L857.9,828.8M857.1,841.3 L863.3,833.2M863.2,845.8 L869,837.4M869.7,850 L874.9,841.2M876.5,853.7 L881.1,844.6M884,856.9 L887,847.1M895.1,856.3 L890.2,847.3M900.3,845.4 L890.1,845.4M899.8,838.7 L889.7,839.9M898.9,832.3 L888.8,834.1M897.5,825.9 L887.6,828.4M895.7,819.7 L886,822.9M893.7,813.9 L884,816.9M892.2,808.3 L882.3,810.8M890.9,802.7 L880.9,804.7M890.1,797.2 L880,798.1M890.1,791.9 L879.9,791.1M891,787.4 L881.5,783.8M893,784 L885.6,777M896.3,781.7 L891.9,772.5M900.4,780.5 L899.1,770.4M905.5,780.5 L906.2,770.3M909.7,781.3 L913.6,771.8M913.1,783.7 L920.2,776.4M915,786.4 L924.8,783.7M915.2,790.8 L925.4,791.2M914.8,796.5 L924.9,797.6M914,802.3 L924.1,803.9M912.9,808.1 L922.9,810.2M911.6,813.9 L921.5,816.4M910.1,819.6 L919.9,822.3M908.5,825.2 L918.2,828.2M906.7,831 L916.5,833.8M905.2,837.3 L915.2,839.5M904.1,844.1 L914.3,844.7M905.7,852.6 L914.7,848M917.1,858 L916.1,847.9M925.4,855.9 L922,846.3M932.7,852.8 L928.2,843.6M939.6,848.8 L934,840.3M946.2,844.1 L939.9,836M952.3,839 L945.5,831.4M958,833.5 L950.7,826.4M963.5,827.6 L955.8,820.9M968.2,821.9 L960.3,815.5M972.8,816.1 L964.7,809.9M977.2,810.1 L968.9,804.2M981.4,803.7 L972.8,798.4M985.2,797.2 L976.2,792.4M988.5,790.4 L979.2,786.2M991.4,783.5 L981.9,779.8M993.9,776.3 L984.2,773.3M996,768.9 L986.1,766.4M997.7,761.4 L987.7,759.4M999,753.8 L988.9,752.5M999.7,746.1 L989.5,745.3M1000.2,738.5 L990,738M1000.2,730.6 L990.1,732M999.6,723.4 L989.4,724.2M998.9,715.7 L988.7,716.7M997.9,707.7 L987.8,709.2M996.6,700.1 L986.6,702.1M994.9,692.6 L985,695.1M992.7,685.2 L983,688.5M989.8,678 L980.5,682.1M986.5,671.1 L977.5,675.9M982.9,664.5 L974,669.5M979,657.8 L970.3,663.1M974.7,651.1 L966.2,656.7M970.8,645 L962.2,650.6M966.5,638.5 L958,644.1M962.1,632 L953.7,637.7M958,625.7 L949.3,631M954.7,619.7 L945.6,624.4M951.4,613.3 L942.2,617.6M948.5,606.8 L939.1,610.7M946,600 L936.3,603.3M944,593.1 L934.1,595.4" fill="none" stroke="#6ab2ba" stroke-width="0.7"/>
<g fill="#a8603f" stroke="#2e150d" stroke-width="0.9" stroke-linejoin="round"><path d="M893.7,813.9 L892.2,808.3 L882.3,810.8 L884,816.9 Z"/><path d="M890.9,802.7 L890.1,797.2 L880,798.1 L880.9,804.7 Z"/><path d="M890.1,791.9 L891,787.4 L881.5,783.8 L879.9,791.1 Z"/><path d="M896.3,781.7 L900.4,780.5 L899.1,770.4 L891.9,772.5 Z"/><path d="M913.1,783.7 L915,786.4 L924.8,783.7 L920.2,776.4 Z"/><path d="M914.8,796.5 L914,802.3 L924.1,803.9 L924.9,797.6 Z"/><path d="M912.9,808.1 L911.6,813.9 L921.5,816.4 L922.9,810.2 Z"/></g>
<g fill="#5fb0bc"><ellipse cx="862.7" cy="592.7" rx="1.8" ry="1.2" transform="rotate(196.5 862.7 592.7)"/><ellipse cx="860.3" cy="599.8" rx="1.8" ry="1.2" transform="rotate(200.8 860.3 599.8)"/><ellipse cx="857.6" cy="606.7" rx="1.8" ry="1.2" transform="rotate(202.7 857.6 606.7)"/><ellipse cx="854.6" cy="613.6" rx="1.8" ry="1.2" transform="rotate(203.9 854.6 613.6)"/><ellipse cx="851.5" cy="620.3" rx="1.8" ry="1.2" transform="rotate(205 851.5 620.3)"/><ellipse cx="848.4" cy="627" rx="1.8" ry="1.2" transform="rotate(206.1 848.4 627)"/><ellipse cx="845.1" cy="633.6" rx="1.8" ry="1.2" transform="rotate(207.2 845.1 633.6)"/><ellipse cx="841.6" cy="640.2" rx="1.8" ry="1.2" transform="rotate(208.5 841.6 640.2)"/><ellipse cx="837.8" cy="646.8" rx="1.8" ry="1.2" transform="rotate(210.5 837.8 646.8)"/><ellipse cx="833.9" cy="653.4" rx="1.8" ry="1.2" transform="rotate(210.9 833.9 653.4)"/><ellipse cx="830.1" cy="660" rx="1.8" ry="1.2" transform="rotate(209.5 830.1 660)"/><ellipse cx="826.4" cy="666.6" rx="1.8" ry="1.2" transform="rotate(208.7 826.4 666.6)"/><ellipse cx="822.9" cy="673.2" rx="1.8" ry="1.2" transform="rotate(207.6 822.9 673.2)"/><ellipse cx="819.6" cy="679.8" rx="1.8" ry="1.2" transform="rotate(204.4 819.6 679.8)"/><ellipse cx="816.9" cy="686.6" rx="1.8" ry="1.2" transform="rotate(199.3 816.9 686.6)"/><ellipse cx="814.7" cy="693.7" rx="1.8" ry="1.2" transform="rotate(194.7 814.7 693.7)"/><ellipse cx="813.1" cy="700.9" rx="1.8" ry="1.2" transform="rotate(191.1 813.1 700.9)"/><ellipse cx="811.8" cy="708.2" rx="1.8" ry="1.2" transform="rotate(188 811.8 708.2)"/><ellipse cx="811" cy="715.7" rx="1.8" ry="1.2" transform="rotate(184.6 811 715.7)"/><ellipse cx="810.5" cy="723.2" rx="1.8" ry="1.2" transform="rotate(182.9 810.5 723.2)"/><ellipse cx="810.2" cy="730.6" rx="1.8" ry="1.2" transform="rotate(182.6 810.2 730.6)"/><ellipse cx="810" cy="737.9" rx="1.8" ry="1.2" transform="rotate(180.1 810 737.9)"/><ellipse cx="810.2" cy="745.3" rx="1.8" ry="1.2" transform="rotate(176.1 810.2 745.3)"/><ellipse cx="810.8" cy="752.5" rx="1.8" ry="1.2" transform="rotate(174.8 810.8 752.5)"/><ellipse cx="811.7" cy="759.9" rx="1.8" ry="1.2" transform="rotate(171.9 811.7 759.9)"/><ellipse cx="813" cy="767.3" rx="1.8" ry="1.2" transform="rotate(167.2 813 767.3)"/><ellipse cx="814.9" cy="774.5" rx="1.8" ry="1.2" transform="rotate(163.3 814.9 774.5)"/><ellipse cx="817.4" cy="781.7" rx="1.8" ry="1.2" transform="rotate(159.6 817.4 781.7)"/><ellipse cx="820.2" cy="788.7" rx="1.8" ry="1.2" transform="rotate(155.6 820.2 788.7)"/><ellipse cx="823.6" cy="795.5" rx="1.8" ry="1.2" transform="rotate(151.8 823.6 795.5)"/><ellipse cx="827.4" cy="802.1" rx="1.8" ry="1.2" transform="rotate(147.9 827.4 802.1)"/><ellipse cx="831.7" cy="808.5" rx="1.8" ry="1.2" transform="rotate(144 831.7 808.5)"/><ellipse cx="836.4" cy="814.5" rx="1.8" ry="1.2" transform="rotate(140.1 836.4 814.5)"/><ellipse cx="841.4" cy="820" rx="1.8" ry="1.2" transform="rotate(137 841.4 820)"/><ellipse cx="846.5" cy="825.3" rx="1.8" ry="1.2" transform="rotate(134.5 846.5 825.3)"/><ellipse cx="851.9" cy="830.3" rx="1.8" ry="1.2" transform="rotate(131.6 851.9 830.3)"/><ellipse cx="857.4" cy="835" rx="1.8" ry="1.2" transform="rotate(128.8 857.4 835)"/><ellipse cx="863.2" cy="839.4" rx="1.8" ry="1.2" transform="rotate(126.2 863.2 839.4)"/><ellipse cx="869.2" cy="843.6" rx="1.8" ry="1.2" transform="rotate(122.8 869.2 843.6)"/><ellipse cx="875.6" cy="847.4" rx="1.8" ry="1.2" transform="rotate(118.7 875.6 847.4)"/><ellipse cx="882.2" cy="850.6" rx="1.8" ry="1.2" transform="rotate(113.2 882.2 850.6)"/><ellipse cx="889.1" cy="851.9" rx="1.8" ry="1.2" transform="rotate(88.4 889.1 851.9)"/><ellipse cx="893.9" cy="848.6" rx="1.8" ry="1.2" transform="rotate(21.6 893.9 848.6)"/><ellipse cx="894.9" cy="842.4" rx="1.8" ry="1.2" transform="rotate(-4.1 894.9 842.4)"/><ellipse cx="894.3" cy="836.2" rx="1.8" ry="1.2" transform="rotate(-7.9 894.3 836.2)"/><ellipse cx="893.2" cy="830.2" rx="1.8" ry="1.2" transform="rotate(-12.1 893.2 830.2)"/><ellipse cx="891.7" cy="824.2" rx="1.8" ry="1.2" transform="rotate(-16.4 891.7 824.2)"/><ellipse cx="889.9" cy="818.4" rx="1.8" ry="1.2" transform="rotate(-18.6 889.9 818.4)"/><ellipse cx="888.1" cy="812.5" rx="1.7" ry="1.1" transform="rotate(-15.5 888.1 812.5)" fill="#3a1a10"/><ellipse cx="886.6" cy="806.6" rx="1.8" ry="1.2" transform="rotate(-13 886.6 806.6)"/><ellipse cx="885.5" cy="800.7" rx="1.7" ry="1.1" transform="rotate(-7.8 885.5 800.7)" fill="#3a1a10"/><ellipse cx="885" cy="794.6" rx="1.8" ry="1.2" transform="rotate(-0.8 885 794.6)"/><ellipse cx="885.6" cy="788.5" rx="1.7" ry="1.1" transform="rotate(12.2 885.6 788.5)" fill="#3a1a10"/><ellipse cx="887.8" cy="783" rx="1.8" ry="1.2" transform="rotate(30.8 887.8 783)"/><ellipse cx="891.7" cy="778.8" rx="1.8" ry="1.2" transform="rotate(55 891.7 778.8)"/><ellipse cx="896.9" cy="776.3" rx="1.7" ry="1.1" transform="rotate(73.4 896.9 776.3)" fill="#3a1a10"/><ellipse cx="902.8" cy="775.4" rx="1.8" ry="1.2" transform="rotate(89.6 902.8 775.4)"/><ellipse cx="908.8" cy="776" rx="1.8" ry="1.2" transform="rotate(101.4 908.8 776)"/><ellipse cx="914.2" cy="778.3" rx="1.8" ry="1.2" transform="rotate(124.5 914.2 778.3)"/><ellipse cx="918.3" cy="782.5" rx="1.7" ry="1.1" transform="rotate(147.7 918.3 782.5)" fill="#3a1a10"/><ellipse cx="920.1" cy="788" rx="1.8" ry="1.2" transform="rotate(176.3 920.1 788)"/><ellipse cx="920.1" cy="794" rx="1.8" ry="1.2" transform="rotate(184 920.1 794)"/><ellipse cx="919.4" cy="800.1" rx="1.7" ry="1.1" transform="rotate(187.7 919.4 800.1)" fill="#3a1a10"/><ellipse cx="918.5" cy="806.1" rx="1.8" ry="1.2" transform="rotate(190.3 918.5 806.1)"/><ellipse cx="917.2" cy="812.1" rx="1.7" ry="1.1" transform="rotate(193.3 917.2 812.1)" fill="#3a1a10"/><ellipse cx="915.7" cy="818" rx="1.8" ry="1.2" transform="rotate(194.8 915.7 818)"/><ellipse cx="914.2" cy="823.8" rx="1.8" ry="1.2" transform="rotate(196 914.2 823.8)"/><ellipse cx="912.5" cy="829.5" rx="1.8" ry="1.2" transform="rotate(196.8 912.5 829.5)"/><ellipse cx="910.9" cy="835.4" rx="1.8" ry="1.2" transform="rotate(193.5 910.9 835.4)"/><ellipse cx="909.7" cy="841.4" rx="1.8" ry="1.2" transform="rotate(189.1 909.7 841.4)"/><ellipse cx="909.7" cy="847.4" rx="1.8" ry="1.2" transform="rotate(170.5 909.7 847.4)"/><ellipse cx="913.4" cy="851.6" rx="1.8" ry="1.2" transform="rotate(112.1 913.4 851.6)"/><ellipse cx="920.2" cy="852" rx="1.8" ry="1.2" transform="rotate(75.4 920.2 852)"/><ellipse cx="927.1" cy="849.6" rx="1.8" ry="1.2" transform="rotate(66.9 927.1 849.6)"/><ellipse cx="933.6" cy="846.4" rx="1.8" ry="1.2" transform="rotate(59.8 933.6 846.4)"/><ellipse cx="939.9" cy="842.3" rx="1.8" ry="1.2" transform="rotate(54.3 939.9 842.3)"/><ellipse cx="946" cy="837.6" rx="1.8" ry="1.2" transform="rotate(50.4 946 837.6)"/><ellipse cx="951.6" cy="832.6" rx="1.8" ry="1.2" transform="rotate(46.4 951.6 832.6)"/><ellipse cx="957" cy="827.1" rx="1.8" ry="1.2" transform="rotate(42.5 957 827.1)"/><ellipse cx="961.9" cy="821.5" rx="1.8" ry="1.2" transform="rotate(39.8 961.9 821.5)"/><ellipse cx="966.5" cy="815.8" rx="1.8" ry="1.2" transform="rotate(38.2 966.5 815.8)"/><ellipse cx="970.9" cy="810.1" rx="1.8" ry="1.2" transform="rotate(36.4 970.9 810.1)"/><ellipse cx="975.1" cy="804.1" rx="1.8" ry="1.2" transform="rotate(33.6 975.1 804.1)"/><ellipse cx="978.9" cy="797.9" rx="1.8" ry="1.2" transform="rotate(29.7 978.9 797.9)"/><ellipse cx="982.3" cy="791.6" rx="1.8" ry="1.2" transform="rotate(26.2 982.3 791.6)"/><ellipse cx="985.3" cy="785" rx="1.8" ry="1.2" transform="rotate(22.8 985.3 785)"/><ellipse cx="987.9" cy="778.2" rx="1.8" ry="1.2" transform="rotate(19.3 987.9 778.2)"/><ellipse cx="990.1" cy="771.2" rx="1.8" ry="1.2" transform="rotate(15.8 990.1 771.2)"/><ellipse cx="991.9" cy="764" rx="1.8" ry="1.2" transform="rotate(12.6 991.9 764)"/><ellipse cx="993.3" cy="756.8" rx="1.8" ry="1.2" transform="rotate(9.5 993.3 756.8)"/><ellipse cx="994.3" cy="749.4" rx="1.8" ry="1.2" transform="rotate(5.5 994.3 749.4)"/><ellipse cx="994.9" cy="742" rx="1.8" ry="1.2" transform="rotate(3.4 994.9 742)"/><ellipse cx="995.1" cy="734.8" rx="1.8" ry="1.2" transform="rotate(0.6 995.1 734.8)"/><ellipse cx="994.8" cy="727.6" rx="1.8" ry="1.2" transform="rotate(-5.1 994.8 727.6)"/><ellipse cx="994.2" cy="720" rx="1.8" ry="1.2" transform="rotate(-5 994.2 720)"/><ellipse cx="993.4" cy="712.3" rx="1.8" ry="1.2" transform="rotate(-6.9 993.4 712.3)"/><ellipse cx="992.2" cy="704.8" rx="1.8" ry="1.2" transform="rotate(-10.2 992.2 704.8)"/><ellipse cx="990.7" cy="697.5" rx="1.8" ry="1.2" transform="rotate(-12.7 990.7 697.5)"/><ellipse cx="988.9" cy="690.3" rx="1.8" ry="1.2" transform="rotate(-16.4 988.9 690.3)"/><ellipse cx="986.5" cy="683.4" rx="1.8" ry="1.2" transform="rotate(-21.4 986.5 683.4)"/><ellipse cx="983.6" cy="676.8" rx="1.8" ry="1.2" transform="rotate(-26.1 983.6 676.8)"/><ellipse cx="980.2" cy="670.3" rx="1.8" ry="1.2" transform="rotate(-28.8 980.2 670.3)"/><ellipse cx="976.5" cy="663.7" rx="1.8" ry="1.2" transform="rotate(-30.2 976.5 663.7)"/><ellipse cx="972.5" cy="657.2" rx="1.8" ry="1.2" transform="rotate(-32.4 972.5 657.2)"/><ellipse cx="968.5" cy="650.9" rx="1.8" ry="1.2" transform="rotate(-33.2 968.5 650.9)"/><ellipse cx="964.4" cy="644.6" rx="1.8" ry="1.2" transform="rotate(-33 964.4 644.6)"/><ellipse cx="960.1" cy="638.1" rx="1.8" ry="1.2" transform="rotate(-34 960.1 638.1)"/><ellipse cx="955.8" cy="631.6" rx="1.8" ry="1.2" transform="rotate(-32.9 955.8 631.6)"/><ellipse cx="951.9" cy="625.2" rx="1.8" ry="1.2" transform="rotate(-29.4 951.9 625.2)"/><ellipse cx="948.5" cy="618.8" rx="1.8" ry="1.2" transform="rotate(-26.7 948.5 618.8)"/><ellipse cx="945.3" cy="612.1" rx="1.8" ry="1.2" transform="rotate(-24.2 945.3 612.1)"/><ellipse cx="942.5" cy="605.2" rx="1.8" ry="1.2" transform="rotate(-20.9 942.5 605.2)"/><ellipse cx="940.1" cy="598" rx="1.8" ry="1.2" transform="rotate(-15.7 940.1 598)"/></g>
</g>
<rect x="788.6" y="567" width="378.3" height="315" rx="15" fill="none" stroke="#454545" stroke-width="1.1"/>
<path class="ld2" d="M927.5,798.7H1016.7"/>
<text x="33" y="61.6" font-size="31.5" font-weight="700" fill="#000" textLength="675" lengthAdjust="spacingAndGlyphs">Строение живой и неживой части волоса</text>
<text class="t" x="32" y="125" textLength="130" lengthAdjust="spacingAndGlyphs">Эпидермис</text>
<text class="t" x="32" y="948.5" textLength="73" lengthAdjust="spacingAndGlyphs">Дерма</text>
<text class="t" x="127.2" y="654" textLength="87.5" lengthAdjust="spacingAndGlyphs">Мышца,</text>
<text class="t" x="127.2" y="682.4" textLength="160.3" lengthAdjust="spacingAndGlyphs">поднимающая</text>
<text class="t" x="127.2" y="710.6" textLength="66.3" lengthAdjust="spacingAndGlyphs">волос</text>
<text class="t" x="529.4" y="538" textLength="92.6" lengthAdjust="spacingAndGlyphs">Сальная</text>
<text class="t" x="529.4" y="566.3" textLength="78.8" lengthAdjust="spacingAndGlyphs">железа</text>
<text class="t" x="296.6" y="844.4" textLength="230.4" lengthAdjust="spacingAndGlyphs">Волосяная луковица</text>
<text class="t" x="1026.1" y="308" textLength="114" lengthAdjust="spacingAndGlyphs">Кератино-</text>
<text class="t" x="1026.1" y="336.3" textLength="53.7" lengthAdjust="spacingAndGlyphs">циты</text>
<text class="t" x="1026.1" y="429.7" textLength="103.7" lengthAdjust="spacingAndGlyphs">Глубокий</text>
<text class="t" x="1026.1" y="458.2" textLength="115" lengthAdjust="spacingAndGlyphs">слой кожи</text>
<text class="tb" x="846.1" y="497" textLength="125.6" lengthAdjust="spacingAndGlyphs">Меланоцит</text>
<text class="tb" x="1026.3" y="806.3" textLength="125.4" lengthAdjust="spacingAndGlyphs">Меланоцит</text>

</svg>
</body></html>
